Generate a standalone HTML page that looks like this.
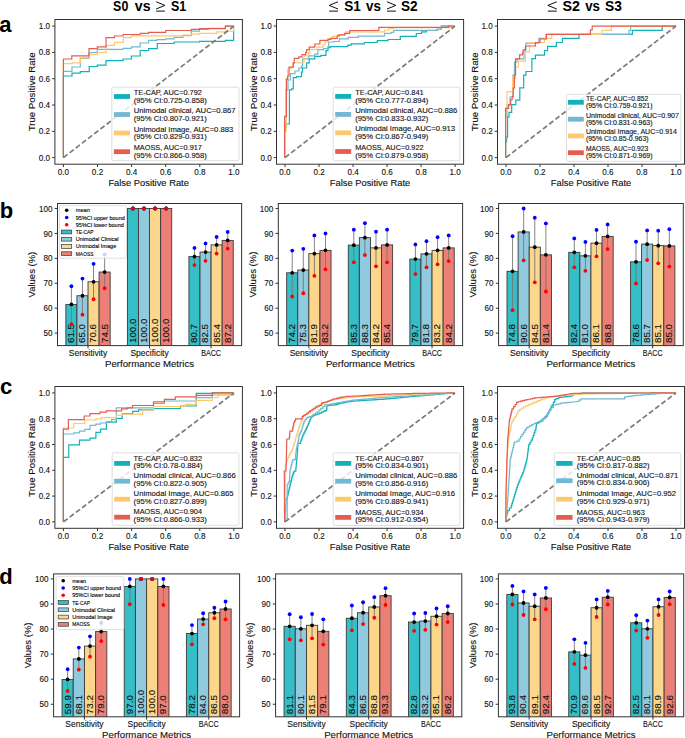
<!DOCTYPE html><html><head><meta charset="utf-8"><style>html,body{margin:0;padding:0;background:#fff;overflow:hidden} svg text{font-family:"Liberation Sans", sans-serif}</style></head><body>
<svg width="685" height="738" viewBox="0 0 685 738" style="display:block">
<rect width="685" height="738" fill="#fff"/>
<text x="113.10" y="10.70" font-size="15.20" font-weight="bold" textLength="15.20" lengthAdjust="spacingAndGlyphs">S0</text>
<text x="134.80" y="10.70" font-size="15.20" font-weight="bold" textLength="15.80" lengthAdjust="spacingAndGlyphs">vs</text>
<path d="M156.10,1.75 L164.90,5.4 L156.10,9.0" fill="none" stroke="#000" stroke-width="0.95"/>
<line x1="156.10" y1="11.1" x2="164.90" y2="11.1" stroke="#000" stroke-width="0.95"/>
<text x="171.00" y="10.70" font-size="15.20" font-weight="bold" textLength="15.30" lengthAdjust="spacingAndGlyphs">S1</text>
<path d="M338.00,1.75 L329.20,5.4 L338.00,9.0" fill="none" stroke="#000" stroke-width="0.95"/>
<line x1="329.20" y1="11.1" x2="338.00" y2="11.1" stroke="#000" stroke-width="0.95"/>
<text x="344.20" y="10.70" font-size="15.20" font-weight="bold" textLength="16.60" lengthAdjust="spacingAndGlyphs">S1</text>
<text x="366.00" y="10.70" font-size="15.20" font-weight="bold" textLength="14.90" lengthAdjust="spacingAndGlyphs">vs</text>
<path d="M387.00,1.75 L395.80,5.4 L387.00,9.0" fill="none" stroke="#000" stroke-width="0.95"/>
<line x1="387.00" y1="11.1" x2="395.80" y2="11.1" stroke="#000" stroke-width="0.95"/>
<text x="401.00" y="10.70" font-size="15.20" font-weight="bold" textLength="16.70" lengthAdjust="spacingAndGlyphs">S2</text>
<path d="M556.80,1.75 L547.80,5.4 L556.80,9.0" fill="none" stroke="#000" stroke-width="0.95"/>
<line x1="547.80" y1="11.1" x2="556.80" y2="11.1" stroke="#000" stroke-width="0.95"/>
<text x="562.40" y="10.70" font-size="15.20" font-weight="bold" textLength="17.50" lengthAdjust="spacingAndGlyphs">S2</text>
<text x="585.20" y="10.70" font-size="15.20" font-weight="bold" textLength="14.80" lengthAdjust="spacingAndGlyphs">vs</text>
<text x="605.00" y="10.70" font-size="15.20" font-weight="bold" textLength="16.90" lengthAdjust="spacingAndGlyphs">S3</text>
<text x="-0.80" y="32.30" font-size="22.00" font-weight="bold">a</text>
<text x="-0.30" y="217.80" font-size="22.00" font-weight="bold">b</text>
<text x="0.00" y="394.40" font-size="22.00" font-weight="bold">c</text>
<text x="-0.80" y="584.40" font-size="22.00" font-weight="bold">d</text>
<svg x="54.90" y="19.50" width="187.50" height="144.70" viewBox="54.90 19.50 187.50 144.70" overflow="hidden">
<path d="M63.40,157.50 L63.40,76.00 L72.00,76.00 L72.00,73.10 L80.30,73.10 L80.30,71.60 L89.20,71.60 L89.20,66.50 L97.30,66.50 L97.30,65.20 L106.00,65.20 L106.00,60.70 L123.10,60.70 L123.10,59.00 L131.40,59.00 L131.40,56.00 L140.20,56.00 L140.20,50.50 L148.60,50.50 L148.60,48.60 L157.30,48.60 L157.30,43.50 L174.20,43.50 L174.20,42.00 L199.50,42.00 L199.50,41.30 L225.40,41.30 L225.40,40.30 L233.60,40.30 L233.60,26.20" fill="none" stroke="rgb(18,176,184)" stroke-width="1.2" stroke-linejoin="miter"/>
<path d="M63.40,157.50 L63.40,71.40 L72.00,71.40 L72.00,67.00 L80.30,67.00 L80.30,58.30 L89.20,58.30 L89.20,52.50 L97.30,52.50 L97.30,49.40 L123.10,49.40 L123.10,48.40 L131.40,48.40 L131.40,46.90 L140.20,46.90 L140.20,43.00 L148.60,43.00 L148.60,40.40 L157.10,40.40 L157.10,39.60 L165.70,39.60 L165.70,38.90 L174.20,38.90 L174.20,37.40 L182.80,37.40 L182.80,35.70 L191.30,35.70 L191.30,31.10 L199.50,31.10 L199.50,29.40 L208.20,29.40 L208.20,28.40 L225.40,28.40 L225.40,26.20 L233.60,26.20" fill="none" stroke="rgb(114,184,210)" stroke-width="1.2" stroke-linejoin="miter"/>
<path d="M63.40,157.50 L63.40,63.70 L72.30,63.70 L72.30,62.90 L80.30,62.90 L80.30,57.80 L89.20,57.80 L89.20,54.40 L97.30,54.40 L97.30,52.50 L106.00,52.50 L106.00,45.30 L114.50,45.30 L114.50,42.30 L123.40,42.30 L123.40,37.60 L131.40,37.60 L131.40,35.80 L182.70,35.80 L182.70,35.00 L191.30,35.00 L191.30,34.20 L199.50,34.20 L199.50,33.30 L216.90,33.30 L216.90,31.80 L225.40,31.80 L225.40,31.10 L233.60,31.10 L233.60,26.20" fill="none" stroke="rgb(254,201,106)" stroke-width="1.2" stroke-linejoin="miter"/>
<path d="M63.40,157.50 L63.40,59.00 L71.80,59.00 L71.80,55.80 L89.00,55.80 L89.00,48.60 L97.30,48.60 L97.30,46.90 L106.00,46.90 L106.00,37.60 L114.50,37.60 L114.50,36.00 L123.10,36.00 L123.10,34.50 L140.20,34.50 L140.20,33.30 L148.60,33.30 L148.60,32.30 L165.70,32.30 L165.70,30.50 L191.30,30.50 L191.30,29.40 L199.50,29.40 L199.50,28.60 L225.40,28.60 L225.40,26.20 L233.60,26.20" fill="none" stroke="rgb(230,93,80)" stroke-width="1.2" stroke-linejoin="miter"/>
<line x1="63.42" y1="157.62" x2="233.88" y2="26.08" stroke="#7a7a7a" stroke-width="1.7" stroke-dasharray="5.2 2.6"/>
</svg>
<rect x="54.90" y="19.50" width="187.50" height="144.70" fill="none" stroke="#333" stroke-width="1"/>
<line x1="63.42" y1="164.20" x2="63.42" y2="167.00" stroke="#333" stroke-width="1"/>
<line x1="52.10" y1="157.62" x2="54.90" y2="157.62" stroke="#333" stroke-width="1"/>
<text x="63.42" y="174.90" font-size="8.80" text-anchor="middle" textLength="11.29" lengthAdjust="spacingAndGlyphs" fill="#111" stroke="#111" stroke-width="0.12">0.0</text>
<text x="50.10" y="160.72" font-size="8.80" text-anchor="end" textLength="11.29" lengthAdjust="spacingAndGlyphs" fill="#111" stroke="#111" stroke-width="0.12">0.0</text>
<line x1="97.51" y1="164.20" x2="97.51" y2="167.00" stroke="#333" stroke-width="1"/>
<line x1="52.10" y1="131.31" x2="54.90" y2="131.31" stroke="#333" stroke-width="1"/>
<text x="97.51" y="174.90" font-size="8.80" text-anchor="middle" textLength="11.29" lengthAdjust="spacingAndGlyphs" fill="#111" stroke="#111" stroke-width="0.12">0.2</text>
<text x="50.10" y="134.41" font-size="8.80" text-anchor="end" textLength="11.29" lengthAdjust="spacingAndGlyphs" fill="#111" stroke="#111" stroke-width="0.12">0.2</text>
<line x1="131.60" y1="164.20" x2="131.60" y2="167.00" stroke="#333" stroke-width="1"/>
<line x1="52.10" y1="105.00" x2="54.90" y2="105.00" stroke="#333" stroke-width="1"/>
<text x="131.60" y="174.90" font-size="8.80" text-anchor="middle" textLength="11.29" lengthAdjust="spacingAndGlyphs" fill="#111" stroke="#111" stroke-width="0.12">0.4</text>
<text x="50.10" y="108.10" font-size="8.80" text-anchor="end" textLength="11.29" lengthAdjust="spacingAndGlyphs" fill="#111" stroke="#111" stroke-width="0.12">0.4</text>
<line x1="165.70" y1="164.20" x2="165.70" y2="167.00" stroke="#333" stroke-width="1"/>
<line x1="52.10" y1="78.70" x2="54.90" y2="78.70" stroke="#333" stroke-width="1"/>
<text x="165.70" y="174.90" font-size="8.80" text-anchor="middle" textLength="11.29" lengthAdjust="spacingAndGlyphs" fill="#111" stroke="#111" stroke-width="0.12">0.6</text>
<text x="50.10" y="81.80" font-size="8.80" text-anchor="end" textLength="11.29" lengthAdjust="spacingAndGlyphs" fill="#111" stroke="#111" stroke-width="0.12">0.6</text>
<line x1="199.79" y1="164.20" x2="199.79" y2="167.00" stroke="#333" stroke-width="1"/>
<line x1="52.10" y1="52.39" x2="54.90" y2="52.39" stroke="#333" stroke-width="1"/>
<text x="199.79" y="174.90" font-size="8.80" text-anchor="middle" textLength="11.29" lengthAdjust="spacingAndGlyphs" fill="#111" stroke="#111" stroke-width="0.12">0.8</text>
<text x="50.10" y="55.49" font-size="8.80" text-anchor="end" textLength="11.29" lengthAdjust="spacingAndGlyphs" fill="#111" stroke="#111" stroke-width="0.12">0.8</text>
<line x1="233.88" y1="164.20" x2="233.88" y2="167.00" stroke="#333" stroke-width="1"/>
<line x1="52.10" y1="26.08" x2="54.90" y2="26.08" stroke="#333" stroke-width="1"/>
<text x="233.88" y="174.90" font-size="8.80" text-anchor="middle" textLength="11.29" lengthAdjust="spacingAndGlyphs" fill="#111" stroke="#111" stroke-width="0.12">1.0</text>
<text x="50.10" y="29.18" font-size="8.80" text-anchor="end" textLength="11.29" lengthAdjust="spacingAndGlyphs" fill="#111" stroke="#111" stroke-width="0.12">1.0</text>
<text x="148.65" y="185.90" font-size="8.70" text-anchor="middle" textLength="80.50" lengthAdjust="spacingAndGlyphs" fill="#111" stroke="#111" stroke-width="0.12">False Positive Rate</text>
<text x="35.20" y="91.85" font-size="8.70" text-anchor="middle" textLength="79.00" lengthAdjust="spacingAndGlyphs" fill="#111" stroke="#111" stroke-width="0.12" transform="rotate(-90 35.20 91.85)">True Positive Rate</text>
<rect x="111.80" y="87.20" width="127.20" height="73.40" rx="1.3" ry="1.3" fill="rgba(255,255,255,0.8)" stroke="#d6d6d6" stroke-width="0.8"/>
<line x1="113.90" y1="96.50" x2="130.00" y2="96.50" stroke="rgb(18,176,184)" stroke-width="4.80"/>
<text x="133.70" y="95.16" font-size="7.40" textLength="68.27" lengthAdjust="spacingAndGlyphs" fill="#111" stroke="#111" stroke-width="0.12">TE-CAP, AUC=0.792</text>
<text x="133.70" y="102.76" font-size="7.40" textLength="73.01" lengthAdjust="spacingAndGlyphs" fill="#111" stroke="#111" stroke-width="0.12">(95% CI:0.725-0.858)</text>
<line x1="113.90" y1="114.50" x2="130.00" y2="114.50" stroke="rgb(114,184,210)" stroke-width="4.80"/>
<text x="133.70" y="113.16" font-size="7.40" textLength="101.87" lengthAdjust="spacingAndGlyphs" fill="#111" stroke="#111" stroke-width="0.12">Unimodal clinical, AUC=0.867</text>
<text x="133.70" y="120.76" font-size="7.40" textLength="73.01" lengthAdjust="spacingAndGlyphs" fill="#111" stroke="#111" stroke-width="0.12">(95% CI:0.807-0.921)</text>
<line x1="113.90" y1="133.00" x2="130.00" y2="133.00" stroke="rgb(254,201,106)" stroke-width="4.80"/>
<text x="133.70" y="131.66" font-size="7.40" textLength="99.66" lengthAdjust="spacingAndGlyphs" fill="#111" stroke="#111" stroke-width="0.12">Unimodal Image, AUC=0.883</text>
<text x="133.70" y="139.26" font-size="7.40" textLength="73.01" lengthAdjust="spacingAndGlyphs" fill="#111" stroke="#111" stroke-width="0.12">(95% CI:0.829-0.931)</text>
<line x1="113.90" y1="151.70" x2="130.00" y2="151.70" stroke="rgb(230,93,80)" stroke-width="4.80"/>
<text x="133.70" y="150.36" font-size="7.40" textLength="68.25" lengthAdjust="spacingAndGlyphs" fill="#111" stroke="#111" stroke-width="0.12">MAOSS, AUC=0.917</text>
<text x="133.70" y="157.96" font-size="7.40" textLength="73.01" lengthAdjust="spacingAndGlyphs" fill="#111" stroke="#111" stroke-width="0.12">(95% CI:0.866-0.958)</text>
<svg x="276.50" y="19.50" width="187.10" height="144.70" viewBox="276.50 19.50 187.10 144.70" overflow="hidden">
<path d="M284.60,157.50 L284.60,131.00 L285.60,131.00 L285.60,124.00 L289.40,124.00 L289.40,89.90 L291.60,89.90 L291.60,88.80 L293.30,88.80 L293.30,77.70 L296.40,77.70 L296.40,76.70 L301.50,76.70 L301.50,72.10 L302.50,72.10 L302.50,68.00 L306.60,68.00 L306.60,62.90 L309.20,62.90 L309.20,58.80 L314.80,58.80 L314.80,56.30 L320.90,56.30 L320.90,55.30 L326.00,55.30 L326.00,50.70 L328.00,50.70 L328.00,47.60 L330.10,47.60 L330.10,46.60 L347.70,46.60 L347.70,45.10 L351.20,45.10 L351.20,43.80 L364.50,43.80 L364.50,42.50 L377.30,42.50 L377.30,40.70 L388.00,40.70 L388.00,39.50 L400.30,39.50 L400.30,36.40 L416.30,36.40 L416.30,33.50 L421.50,33.50 L421.50,31.80 L426.60,31.80 L426.60,30.50 L437.30,30.50 L437.30,29.40 L441.40,29.40 L441.40,26.00 L454.50,26.00" fill="none" stroke="rgb(18,176,184)" stroke-width="1.2" stroke-linejoin="miter"/>
<path d="M284.60,157.50 L284.60,128.00 L286.00,128.00 L286.00,90.00 L288.00,90.00 L288.00,80.00 L290.30,80.00 L290.30,73.60 L295.00,73.60 L295.00,71.00 L299.00,71.00 L299.00,68.00 L301.50,68.00 L301.50,66.50 L302.50,66.50 L302.50,58.80 L308.70,58.80 L308.70,55.80 L314.80,55.80 L314.80,54.20 L317.90,54.20 L317.90,49.60 L323.50,49.60 L323.50,48.60 L328.00,48.60 L328.00,46.60 L328.60,46.60 L328.60,42.00 L334.20,42.00 L334.20,41.50 L339.30,41.50 L339.30,38.90 L348.20,38.90 L348.20,37.40 L358.40,37.40 L358.40,36.20 L384.50,36.20 L384.50,33.30 L391.10,33.30 L391.10,32.30 L393.60,32.30 L393.60,30.30 L437.30,30.30 L437.30,29.40 L441.40,29.40 L441.40,26.00 L454.50,26.00" fill="none" stroke="rgb(114,184,210)" stroke-width="1.2" stroke-linejoin="miter"/>
<path d="M284.60,157.50 L284.60,131.60 L286.10,131.60 L286.10,78.20 L287.70,78.20 L287.70,69.00 L291.30,69.00 L291.30,67.00 L292.80,67.00 L292.80,62.90 L304.00,62.90 L304.00,55.80 L308.70,55.80 L308.70,52.70 L309.70,52.70 L309.70,49.60 L316.80,49.60 L316.80,47.10 L323.00,47.10 L323.00,45.00 L325.00,45.00 L325.00,42.00 L328.00,42.00 L328.00,38.40 L332.20,38.40 L332.20,36.30 L337.30,36.30 L337.30,34.80 L346.00,34.80 L346.00,31.80 L384.50,31.80 L384.50,30.00 L389.00,30.00 L389.00,28.50 L393.60,28.50 L393.60,27.60 L452.10,27.60 L452.10,26.00 L454.50,26.00" fill="none" stroke="rgb(254,201,106)" stroke-width="1.2" stroke-linejoin="miter"/>
<path d="M284.60,157.50 L284.60,116.40 L286.50,116.40 L286.50,79.30 L287.70,79.30 L287.70,76.00 L289.00,76.00 L289.00,67.20 L293.30,67.20 L293.30,62.90 L294.30,62.90 L294.30,58.30 L298.90,58.30 L298.90,56.80 L302.00,56.80 L302.00,54.70 L305.60,54.70 L305.60,52.70 L306.60,52.70 L306.60,49.60 L309.20,49.60 L309.20,47.10 L314.30,47.10 L314.30,46.60 L314.80,46.60 L314.80,44.00 L319.90,44.00 L319.90,40.40 L328.00,40.40 L328.00,39.40 L331.10,39.40 L331.10,38.40 L337.30,38.40 L337.30,35.80 L339.30,35.80 L339.30,34.80 L344.60,34.80 L344.60,33.30 L349.70,33.30 L349.70,30.50 L378.80,30.50 L378.80,27.40 L448.50,27.40 L448.50,26.00 L454.50,26.00" fill="none" stroke="rgb(230,93,80)" stroke-width="1.2" stroke-linejoin="miter"/>
<line x1="285.00" y1="157.62" x2="455.10" y2="26.08" stroke="#7a7a7a" stroke-width="1.7" stroke-dasharray="5.2 2.6"/>
</svg>
<rect x="276.50" y="19.50" width="187.10" height="144.70" fill="none" stroke="#333" stroke-width="1"/>
<line x1="285.00" y1="164.20" x2="285.00" y2="167.00" stroke="#333" stroke-width="1"/>
<line x1="273.70" y1="157.62" x2="276.50" y2="157.62" stroke="#333" stroke-width="1"/>
<text x="285.00" y="174.90" font-size="8.80" text-anchor="middle" textLength="11.29" lengthAdjust="spacingAndGlyphs" fill="#111" stroke="#111" stroke-width="0.12">0.0</text>
<text x="271.70" y="160.72" font-size="8.80" text-anchor="end" textLength="11.29" lengthAdjust="spacingAndGlyphs" fill="#111" stroke="#111" stroke-width="0.12">0.0</text>
<line x1="319.02" y1="164.20" x2="319.02" y2="167.00" stroke="#333" stroke-width="1"/>
<line x1="273.70" y1="131.31" x2="276.50" y2="131.31" stroke="#333" stroke-width="1"/>
<text x="319.02" y="174.90" font-size="8.80" text-anchor="middle" textLength="11.29" lengthAdjust="spacingAndGlyphs" fill="#111" stroke="#111" stroke-width="0.12">0.2</text>
<text x="271.70" y="134.41" font-size="8.80" text-anchor="end" textLength="11.29" lengthAdjust="spacingAndGlyphs" fill="#111" stroke="#111" stroke-width="0.12">0.2</text>
<line x1="353.04" y1="164.20" x2="353.04" y2="167.00" stroke="#333" stroke-width="1"/>
<line x1="273.70" y1="105.00" x2="276.50" y2="105.00" stroke="#333" stroke-width="1"/>
<text x="353.04" y="174.90" font-size="8.80" text-anchor="middle" textLength="11.29" lengthAdjust="spacingAndGlyphs" fill="#111" stroke="#111" stroke-width="0.12">0.4</text>
<text x="271.70" y="108.10" font-size="8.80" text-anchor="end" textLength="11.29" lengthAdjust="spacingAndGlyphs" fill="#111" stroke="#111" stroke-width="0.12">0.4</text>
<line x1="387.06" y1="164.20" x2="387.06" y2="167.00" stroke="#333" stroke-width="1"/>
<line x1="273.70" y1="78.70" x2="276.50" y2="78.70" stroke="#333" stroke-width="1"/>
<text x="387.06" y="174.90" font-size="8.80" text-anchor="middle" textLength="11.29" lengthAdjust="spacingAndGlyphs" fill="#111" stroke="#111" stroke-width="0.12">0.6</text>
<text x="271.70" y="81.80" font-size="8.80" text-anchor="end" textLength="11.29" lengthAdjust="spacingAndGlyphs" fill="#111" stroke="#111" stroke-width="0.12">0.6</text>
<line x1="421.08" y1="164.20" x2="421.08" y2="167.00" stroke="#333" stroke-width="1"/>
<line x1="273.70" y1="52.39" x2="276.50" y2="52.39" stroke="#333" stroke-width="1"/>
<text x="421.08" y="174.90" font-size="8.80" text-anchor="middle" textLength="11.29" lengthAdjust="spacingAndGlyphs" fill="#111" stroke="#111" stroke-width="0.12">0.8</text>
<text x="271.70" y="55.49" font-size="8.80" text-anchor="end" textLength="11.29" lengthAdjust="spacingAndGlyphs" fill="#111" stroke="#111" stroke-width="0.12">0.8</text>
<line x1="455.10" y1="164.20" x2="455.10" y2="167.00" stroke="#333" stroke-width="1"/>
<line x1="273.70" y1="26.08" x2="276.50" y2="26.08" stroke="#333" stroke-width="1"/>
<text x="455.10" y="174.90" font-size="8.80" text-anchor="middle" textLength="11.29" lengthAdjust="spacingAndGlyphs" fill="#111" stroke="#111" stroke-width="0.12">1.0</text>
<text x="271.70" y="29.18" font-size="8.80" text-anchor="end" textLength="11.29" lengthAdjust="spacingAndGlyphs" fill="#111" stroke="#111" stroke-width="0.12">1.0</text>
<text x="370.05" y="185.90" font-size="8.70" text-anchor="middle" textLength="80.50" lengthAdjust="spacingAndGlyphs" fill="#111" stroke="#111" stroke-width="0.12">False Positive Rate</text>
<text x="256.80" y="91.85" font-size="8.70" text-anchor="middle" textLength="79.00" lengthAdjust="spacingAndGlyphs" fill="#111" stroke="#111" stroke-width="0.12" transform="rotate(-90 256.80 91.85)">True Positive Rate</text>
<rect x="333.20" y="87.20" width="126.70" height="73.50" rx="1.3" ry="1.3" fill="rgba(255,255,255,0.8)" stroke="#d6d6d6" stroke-width="0.8"/>
<line x1="335.20" y1="96.40" x2="351.20" y2="96.40" stroke="rgb(18,176,184)" stroke-width="4.80"/>
<text x="355.20" y="95.06" font-size="7.40" textLength="68.47" lengthAdjust="spacingAndGlyphs" fill="#111" stroke="#111" stroke-width="0.12">TE-CAP, AUC=0.841</text>
<text x="355.20" y="102.66" font-size="7.40" textLength="73.23" lengthAdjust="spacingAndGlyphs" fill="#111" stroke="#111" stroke-width="0.12">(95% CI:0.777-0.894)</text>
<line x1="335.20" y1="114.40" x2="351.20" y2="114.40" stroke="rgb(114,184,210)" stroke-width="4.80"/>
<text x="355.20" y="113.06" font-size="7.40" textLength="102.17" lengthAdjust="spacingAndGlyphs" fill="#111" stroke="#111" stroke-width="0.12">Unimodal clinical, AUC=0.886</text>
<text x="355.20" y="120.66" font-size="7.40" textLength="73.23" lengthAdjust="spacingAndGlyphs" fill="#111" stroke="#111" stroke-width="0.12">(95% CI:0.833-0.932)</text>
<line x1="335.20" y1="132.80" x2="351.20" y2="132.80" stroke="rgb(254,201,106)" stroke-width="4.80"/>
<text x="355.20" y="131.46" font-size="7.40" textLength="99.95" lengthAdjust="spacingAndGlyphs" fill="#111" stroke="#111" stroke-width="0.12">Unimodal Image, AUC=0.913</text>
<text x="355.20" y="139.06" font-size="7.40" textLength="73.23" lengthAdjust="spacingAndGlyphs" fill="#111" stroke="#111" stroke-width="0.12">(95% CI:0.867-0.949)</text>
<line x1="335.20" y1="151.50" x2="351.20" y2="151.50" stroke="rgb(230,93,80)" stroke-width="4.80"/>
<text x="355.20" y="150.16" font-size="7.40" textLength="68.45" lengthAdjust="spacingAndGlyphs" fill="#111" stroke="#111" stroke-width="0.12">MAOSS, AUC=0.922</text>
<text x="355.20" y="157.76" font-size="7.40" textLength="73.23" lengthAdjust="spacingAndGlyphs" fill="#111" stroke="#111" stroke-width="0.12">(95% CI:0.879-0.958)</text>
<svg x="497.50" y="19.50" width="187.00" height="144.70" viewBox="497.50 19.50 187.00 144.70" overflow="hidden">
<path d="M505.60,157.50 L505.60,141.80 L506.60,141.80 L506.60,137.20 L507.60,137.20 L507.60,116.90 L509.00,116.90 L509.00,112.30 L511.70,112.30 L511.70,104.70 L515.80,104.70 L515.80,100.20 L519.80,100.20 L519.80,87.80 L523.70,87.80 L523.70,75.20 L526.00,75.20 L526.00,71.50 L531.90,71.50 L531.90,58.60 L535.40,58.60 L535.40,55.10 L544.50,55.10 L544.50,50.70 L547.60,50.70 L547.60,46.30 L556.40,46.30 L556.40,42.50 L562.50,42.50 L562.50,38.40 L579.00,38.40 L579.00,34.30 L632.40,34.30 L632.40,30.30 L662.20,30.30 L662.20,26.20 L675.80,26.20" fill="none" stroke="rgb(18,176,184)" stroke-width="1.2" stroke-linejoin="miter"/>
<path d="M505.60,157.50 L505.60,116.00 L507.00,116.00 L507.00,105.00 L510.00,105.00 L510.00,97.00 L513.00,97.00 L513.00,75.00 L514.50,75.00 L514.50,62.00 L517.00,62.00 L517.00,58.90 L524.00,58.90 L524.00,50.00 L526.00,50.00 L526.00,43.10 L538.90,43.10 L538.90,38.40 L546.00,38.40 L546.00,34.40 L629.00,34.40 L629.00,30.30 L630.70,30.30 L630.70,26.20 L675.80,26.20" fill="none" stroke="rgb(114,184,210)" stroke-width="1.2" stroke-linejoin="miter"/>
<path d="M505.60,157.50 L505.60,112.30 L507.10,112.30 L507.10,92.00 L508.50,92.00 L508.50,91.60 L512.60,91.60 L512.60,78.70 L515.50,78.70 L515.50,67.00 L518.40,67.00 L518.40,61.20 L525.40,61.20 L525.40,51.90 L529.50,51.90 L529.50,42.50 L544.70,42.50 L544.70,38.40 L551.70,38.40 L551.70,34.40 L601.80,34.40 L601.80,30.30 L611.40,30.30 L611.40,26.20 L675.80,26.20" fill="none" stroke="rgb(254,201,106)" stroke-width="1.2" stroke-linejoin="miter"/>
<path d="M505.60,157.50 L505.60,108.30 L508.70,108.30 L508.70,104.70 L510.70,104.70 L510.70,99.60 L512.20,99.60 L512.20,96.60 L513.20,96.60 L513.20,88.00 L514.40,88.00 L514.40,75.20 L515.50,75.20 L515.50,58.90 L519.60,58.90 L519.60,54.80 L522.50,54.80 L522.50,53.00 L523.10,53.00 L523.10,50.10 L525.40,50.10 L525.40,46.00 L535.40,46.00 L535.40,42.50 L540.00,42.50 L540.00,39.00 L546.50,39.00 L546.50,34.40 L590.40,34.40 L590.40,29.90 L592.20,29.90 L592.20,26.20 L675.80,26.20" fill="none" stroke="rgb(230,93,80)" stroke-width="1.2" stroke-linejoin="miter"/>
<line x1="506.00" y1="157.62" x2="676.00" y2="26.08" stroke="#7a7a7a" stroke-width="1.7" stroke-dasharray="5.2 2.6"/>
</svg>
<rect x="497.50" y="19.50" width="187.00" height="144.70" fill="none" stroke="#333" stroke-width="1"/>
<line x1="506.00" y1="164.20" x2="506.00" y2="167.00" stroke="#333" stroke-width="1"/>
<line x1="494.70" y1="157.62" x2="497.50" y2="157.62" stroke="#333" stroke-width="1"/>
<text x="506.00" y="174.90" font-size="8.80" text-anchor="middle" textLength="11.29" lengthAdjust="spacingAndGlyphs" fill="#111" stroke="#111" stroke-width="0.12">0.0</text>
<text x="492.70" y="160.72" font-size="8.80" text-anchor="end" textLength="11.29" lengthAdjust="spacingAndGlyphs" fill="#111" stroke="#111" stroke-width="0.12">0.0</text>
<line x1="540.00" y1="164.20" x2="540.00" y2="167.00" stroke="#333" stroke-width="1"/>
<line x1="494.70" y1="131.31" x2="497.50" y2="131.31" stroke="#333" stroke-width="1"/>
<text x="540.00" y="174.90" font-size="8.80" text-anchor="middle" textLength="11.29" lengthAdjust="spacingAndGlyphs" fill="#111" stroke="#111" stroke-width="0.12">0.2</text>
<text x="492.70" y="134.41" font-size="8.80" text-anchor="end" textLength="11.29" lengthAdjust="spacingAndGlyphs" fill="#111" stroke="#111" stroke-width="0.12">0.2</text>
<line x1="574.00" y1="164.20" x2="574.00" y2="167.00" stroke="#333" stroke-width="1"/>
<line x1="494.70" y1="105.00" x2="497.50" y2="105.00" stroke="#333" stroke-width="1"/>
<text x="574.00" y="174.90" font-size="8.80" text-anchor="middle" textLength="11.29" lengthAdjust="spacingAndGlyphs" fill="#111" stroke="#111" stroke-width="0.12">0.4</text>
<text x="492.70" y="108.10" font-size="8.80" text-anchor="end" textLength="11.29" lengthAdjust="spacingAndGlyphs" fill="#111" stroke="#111" stroke-width="0.12">0.4</text>
<line x1="608.00" y1="164.20" x2="608.00" y2="167.00" stroke="#333" stroke-width="1"/>
<line x1="494.70" y1="78.70" x2="497.50" y2="78.70" stroke="#333" stroke-width="1"/>
<text x="608.00" y="174.90" font-size="8.80" text-anchor="middle" textLength="11.29" lengthAdjust="spacingAndGlyphs" fill="#111" stroke="#111" stroke-width="0.12">0.6</text>
<text x="492.70" y="81.80" font-size="8.80" text-anchor="end" textLength="11.29" lengthAdjust="spacingAndGlyphs" fill="#111" stroke="#111" stroke-width="0.12">0.6</text>
<line x1="642.00" y1="164.20" x2="642.00" y2="167.00" stroke="#333" stroke-width="1"/>
<line x1="494.70" y1="52.39" x2="497.50" y2="52.39" stroke="#333" stroke-width="1"/>
<text x="642.00" y="174.90" font-size="8.80" text-anchor="middle" textLength="11.29" lengthAdjust="spacingAndGlyphs" fill="#111" stroke="#111" stroke-width="0.12">0.8</text>
<text x="492.70" y="55.49" font-size="8.80" text-anchor="end" textLength="11.29" lengthAdjust="spacingAndGlyphs" fill="#111" stroke="#111" stroke-width="0.12">0.8</text>
<line x1="676.00" y1="164.20" x2="676.00" y2="167.00" stroke="#333" stroke-width="1"/>
<line x1="494.70" y1="26.08" x2="497.50" y2="26.08" stroke="#333" stroke-width="1"/>
<text x="676.00" y="174.90" font-size="8.80" text-anchor="middle" textLength="11.29" lengthAdjust="spacingAndGlyphs" fill="#111" stroke="#111" stroke-width="0.12">1.0</text>
<text x="492.70" y="29.18" font-size="8.80" text-anchor="end" textLength="11.29" lengthAdjust="spacingAndGlyphs" fill="#111" stroke="#111" stroke-width="0.12">1.0</text>
<text x="591.00" y="185.90" font-size="8.70" text-anchor="middle" textLength="80.50" lengthAdjust="spacingAndGlyphs" fill="#111" stroke="#111" stroke-width="0.12">False Positive Rate</text>
<text x="477.80" y="91.85" font-size="8.70" text-anchor="middle" textLength="79.00" lengthAdjust="spacingAndGlyphs" fill="#111" stroke="#111" stroke-width="0.12" transform="rotate(-90 477.80 91.85)">True Positive Rate</text>
<rect x="566.50" y="94.30" width="114.40" height="67.00" rx="1.3" ry="1.3" fill="rgba(255,255,255,0.8)" stroke="#d6d6d6" stroke-width="0.8"/>
<line x1="567.90" y1="102.30" x2="583.80" y2="102.30" stroke="rgb(18,176,184)" stroke-width="4.80"/>
<text x="585.90" y="100.75" font-size="6.80" textLength="62.34" lengthAdjust="spacingAndGlyphs" fill="#111" stroke="#111" stroke-width="0.12">TE-CAP, AUC=0.852</text>
<text x="585.90" y="107.65" font-size="6.80" textLength="66.68" lengthAdjust="spacingAndGlyphs" fill="#111" stroke="#111" stroke-width="0.12">(95% CI:0.759-0.921)</text>
<line x1="567.90" y1="119.20" x2="583.80" y2="119.20" stroke="rgb(114,184,210)" stroke-width="4.80"/>
<text x="585.90" y="117.65" font-size="6.80" textLength="93.03" lengthAdjust="spacingAndGlyphs" fill="#111" stroke="#111" stroke-width="0.12">Unimodal clinical, AUC=0.907</text>
<text x="585.90" y="124.55" font-size="6.80" textLength="66.68" lengthAdjust="spacingAndGlyphs" fill="#111" stroke="#111" stroke-width="0.12">(95% CI:0.831-0.963)</text>
<line x1="567.90" y1="135.90" x2="583.80" y2="135.90" stroke="rgb(254,201,106)" stroke-width="4.80"/>
<text x="585.90" y="134.35" font-size="6.80" textLength="91.01" lengthAdjust="spacingAndGlyphs" fill="#111" stroke="#111" stroke-width="0.12">Unimodal Image, AUC=0.914</text>
<text x="585.90" y="141.25" font-size="6.80" textLength="62.73" lengthAdjust="spacingAndGlyphs" fill="#111" stroke="#111" stroke-width="0.12">(95% CI:0.85-0.963)</text>
<line x1="567.90" y1="152.70" x2="583.80" y2="152.70" stroke="rgb(230,93,80)" stroke-width="4.80"/>
<text x="585.90" y="151.15" font-size="6.80" textLength="62.33" lengthAdjust="spacingAndGlyphs" fill="#111" stroke="#111" stroke-width="0.12">MAOSS, AUC=0.923</text>
<text x="585.90" y="158.05" font-size="6.80" textLength="66.68" lengthAdjust="spacingAndGlyphs" fill="#111" stroke="#111" stroke-width="0.12">(95% CI:0.871-0.969)</text>
<svg x="54.90" y="386.50" width="187.50" height="141.80" viewBox="54.90 386.50 187.50 141.80" overflow="hidden">
<path d="M63.40,521.90 L63.40,457.40 L68.80,457.40 L68.80,444.80 L79.50,444.80 L79.50,440.10 L90.00,440.10 L90.00,438.10 L95.90,438.10 L95.90,432.30 L100.50,432.30 L100.50,429.10 L106.40,429.10 L106.40,422.10 L116.30,422.10 L116.30,418.30 L122.20,418.30 L122.20,413.60 L132.70,413.60 L132.70,411.30 L138.40,411.30 L138.40,409.80 L153.50,409.80 L153.50,408.50 L180.40,408.50 L180.40,406.00 L196.30,406.00 L196.30,393.40 L212.30,393.40 L212.30,392.90 L233.60,392.90" fill="none" stroke="rgb(18,176,184)" stroke-width="1.2" stroke-linejoin="miter"/>
<path d="M63.40,521.90 L63.40,434.00 L73.70,434.00 L73.70,432.90 L79.50,432.90 L79.50,431.10 L84.80,431.10 L84.80,429.40 L90.00,429.40 L90.00,425.30 L95.90,425.30 L95.90,424.10 L100.50,424.10 L100.50,423.00 L106.40,423.00 L106.40,421.80 L111.60,421.80 L111.60,419.50 L116.30,419.50 L116.30,407.80 L153.50,407.80 L153.50,403.50 L164.40,403.50 L164.40,401.00 L196.30,401.00 L196.30,397.60 L212.30,397.60 L212.30,395.00 L233.60,395.00 L233.60,392.90" fill="none" stroke="rgb(114,184,210)" stroke-width="1.2" stroke-linejoin="miter"/>
<path d="M63.40,521.90 L63.40,428.00 L73.70,428.00 L73.70,423.50 L84.80,423.50 L84.80,420.00 L95.90,420.00 L95.90,418.90 L101.70,418.90 L101.70,417.70 L116.30,417.70 L116.30,415.40 L122.20,415.40 L122.20,414.20 L142.60,414.20 L142.60,410.20 L153.50,410.20 L153.50,406.50 L185.40,406.50 L185.40,404.30 L196.30,404.30 L196.30,400.40 L212.30,400.40 L212.30,397.60 L218.10,397.60 L218.10,394.70 L233.60,394.70 L233.60,392.90" fill="none" stroke="rgb(254,201,106)" stroke-width="1.2" stroke-linejoin="miter"/>
<path d="M63.40,521.90 L63.40,429.10 L68.40,429.10 L68.40,419.70 L84.20,419.70 L84.20,416.00 L90.00,416.00 L90.00,413.60 L100.00,413.60 L100.00,412.10 L106.40,412.10 L106.40,410.90 L121.60,410.90 L121.60,408.90 L127.40,408.90 L127.40,407.80 L132.50,407.80 L132.50,405.50 L153.50,405.50 L153.50,401.80 L164.40,401.80 L164.40,399.30 L175.30,399.30 L175.30,396.80 L196.30,396.80 L196.30,395.40 L212.30,395.40 L212.30,392.90 L233.60,392.90" fill="none" stroke="rgb(230,93,80)" stroke-width="1.2" stroke-linejoin="miter"/>
<line x1="63.42" y1="521.85" x2="233.88" y2="392.95" stroke="#7a7a7a" stroke-width="1.7" stroke-dasharray="5.2 2.6"/>
</svg>
<rect x="54.90" y="386.50" width="187.50" height="141.80" fill="none" stroke="#333" stroke-width="1"/>
<line x1="63.42" y1="528.30" x2="63.42" y2="531.10" stroke="#333" stroke-width="1"/>
<line x1="52.10" y1="521.85" x2="54.90" y2="521.85" stroke="#333" stroke-width="1"/>
<text x="63.42" y="539.00" font-size="8.80" text-anchor="middle" textLength="11.29" lengthAdjust="spacingAndGlyphs" fill="#111" stroke="#111" stroke-width="0.12">0.0</text>
<text x="50.10" y="524.95" font-size="8.80" text-anchor="end" textLength="11.29" lengthAdjust="spacingAndGlyphs" fill="#111" stroke="#111" stroke-width="0.12">0.0</text>
<line x1="97.51" y1="528.30" x2="97.51" y2="531.10" stroke="#333" stroke-width="1"/>
<line x1="52.10" y1="496.07" x2="54.90" y2="496.07" stroke="#333" stroke-width="1"/>
<text x="97.51" y="539.00" font-size="8.80" text-anchor="middle" textLength="11.29" lengthAdjust="spacingAndGlyphs" fill="#111" stroke="#111" stroke-width="0.12">0.2</text>
<text x="50.10" y="499.17" font-size="8.80" text-anchor="end" textLength="11.29" lengthAdjust="spacingAndGlyphs" fill="#111" stroke="#111" stroke-width="0.12">0.2</text>
<line x1="131.60" y1="528.30" x2="131.60" y2="531.10" stroke="#333" stroke-width="1"/>
<line x1="52.10" y1="470.29" x2="54.90" y2="470.29" stroke="#333" stroke-width="1"/>
<text x="131.60" y="539.00" font-size="8.80" text-anchor="middle" textLength="11.29" lengthAdjust="spacingAndGlyphs" fill="#111" stroke="#111" stroke-width="0.12">0.4</text>
<text x="50.10" y="473.39" font-size="8.80" text-anchor="end" textLength="11.29" lengthAdjust="spacingAndGlyphs" fill="#111" stroke="#111" stroke-width="0.12">0.4</text>
<line x1="165.70" y1="528.30" x2="165.70" y2="531.10" stroke="#333" stroke-width="1"/>
<line x1="52.10" y1="444.51" x2="54.90" y2="444.51" stroke="#333" stroke-width="1"/>
<text x="165.70" y="539.00" font-size="8.80" text-anchor="middle" textLength="11.29" lengthAdjust="spacingAndGlyphs" fill="#111" stroke="#111" stroke-width="0.12">0.6</text>
<text x="50.10" y="447.61" font-size="8.80" text-anchor="end" textLength="11.29" lengthAdjust="spacingAndGlyphs" fill="#111" stroke="#111" stroke-width="0.12">0.6</text>
<line x1="199.79" y1="528.30" x2="199.79" y2="531.10" stroke="#333" stroke-width="1"/>
<line x1="52.10" y1="418.73" x2="54.90" y2="418.73" stroke="#333" stroke-width="1"/>
<text x="199.79" y="539.00" font-size="8.80" text-anchor="middle" textLength="11.29" lengthAdjust="spacingAndGlyphs" fill="#111" stroke="#111" stroke-width="0.12">0.8</text>
<text x="50.10" y="421.83" font-size="8.80" text-anchor="end" textLength="11.29" lengthAdjust="spacingAndGlyphs" fill="#111" stroke="#111" stroke-width="0.12">0.8</text>
<line x1="233.88" y1="528.30" x2="233.88" y2="531.10" stroke="#333" stroke-width="1"/>
<line x1="52.10" y1="392.95" x2="54.90" y2="392.95" stroke="#333" stroke-width="1"/>
<text x="233.88" y="539.00" font-size="8.80" text-anchor="middle" textLength="11.29" lengthAdjust="spacingAndGlyphs" fill="#111" stroke="#111" stroke-width="0.12">1.0</text>
<text x="50.10" y="396.05" font-size="8.80" text-anchor="end" textLength="11.29" lengthAdjust="spacingAndGlyphs" fill="#111" stroke="#111" stroke-width="0.12">1.0</text>
<text x="148.65" y="550.00" font-size="8.70" text-anchor="middle" textLength="80.50" lengthAdjust="spacingAndGlyphs" fill="#111" stroke="#111" stroke-width="0.12">False Positive Rate</text>
<text x="35.20" y="457.40" font-size="8.70" text-anchor="middle" textLength="79.00" lengthAdjust="spacingAndGlyphs" fill="#111" stroke="#111" stroke-width="0.12" transform="rotate(-90 35.20 457.40)">True Positive Rate</text>
<rect x="112.20" y="452.80" width="126.70" height="72.50" rx="1.3" ry="1.3" fill="rgba(255,255,255,0.8)" stroke="#d6d6d6" stroke-width="0.8"/>
<line x1="114.20" y1="463.40" x2="130.10" y2="463.40" stroke="rgb(18,176,184)" stroke-width="4.80"/>
<text x="133.60" y="460.56" font-size="7.40" textLength="68.47" lengthAdjust="spacingAndGlyphs" fill="#111" stroke="#111" stroke-width="0.12">TE-CAP, AUC=0.832</text>
<text x="133.60" y="468.16" font-size="7.40" textLength="68.89" lengthAdjust="spacingAndGlyphs" fill="#111" stroke="#111" stroke-width="0.12">(95% CI:0.78-0.884)</text>
<line x1="114.20" y1="481.20" x2="130.10" y2="481.20" stroke="rgb(114,184,210)" stroke-width="4.80"/>
<text x="133.60" y="478.36" font-size="7.40" textLength="102.17" lengthAdjust="spacingAndGlyphs" fill="#111" stroke="#111" stroke-width="0.12">Unimodal clinical, AUC=0.866</text>
<text x="133.60" y="485.96" font-size="7.40" textLength="73.23" lengthAdjust="spacingAndGlyphs" fill="#111" stroke="#111" stroke-width="0.12">(95% CI:0.822-0.905)</text>
<line x1="114.20" y1="499.20" x2="130.10" y2="499.20" stroke="rgb(254,201,106)" stroke-width="4.80"/>
<text x="133.60" y="496.36" font-size="7.40" textLength="99.95" lengthAdjust="spacingAndGlyphs" fill="#111" stroke="#111" stroke-width="0.12">Unimodal Image, AUC=0.865</text>
<text x="133.60" y="503.96" font-size="7.40" textLength="73.23" lengthAdjust="spacingAndGlyphs" fill="#111" stroke="#111" stroke-width="0.12">(95% CI:0.827-0.899)</text>
<line x1="114.20" y1="517.20" x2="130.10" y2="517.20" stroke="rgb(230,93,80)" stroke-width="4.80"/>
<text x="133.60" y="514.36" font-size="7.40" textLength="68.45" lengthAdjust="spacingAndGlyphs" fill="#111" stroke="#111" stroke-width="0.12">MAOSS, AUC=0.904</text>
<text x="133.60" y="521.96" font-size="7.40" textLength="73.23" lengthAdjust="spacingAndGlyphs" fill="#111" stroke="#111" stroke-width="0.12">(95% CI:0.866-0.933)</text>
<svg x="276.50" y="386.50" width="187.10" height="141.80" viewBox="276.50 386.50 187.10 141.80" overflow="hidden">
<path d="M284.60,521.90 L284.60,520.17 L284.75,520.17 L284.75,518.43 L284.90,518.43 L284.90,516.70 L285.05,516.70 L285.05,514.97 L285.20,514.97 L285.20,513.23 L285.35,513.23 L285.35,511.50 L285.50,511.50 L285.50,509.77 L285.58,509.77 L285.58,508.03 L285.67,508.03 L285.67,506.30 L285.75,506.30 L285.75,504.57 L285.83,504.57 L285.83,502.83 L285.92,502.83 L285.92,501.10 L286.00,501.10 L286.00,498.80 L287.20,498.80 L287.20,496.99 L287.61,496.99 L287.61,495.17 L288.03,495.17 L288.03,493.36 L288.44,493.36 L288.44,491.54 L288.86,491.54 L288.86,489.73 L289.27,489.73 L289.27,487.91 L289.69,487.91 L289.69,486.10 L290.10,486.10 L290.10,484.26 L290.56,484.26 L290.56,482.42 L291.02,482.42 L291.02,480.58 L291.48,480.58 L291.48,478.74 L291.94,478.74 L291.94,476.90 L292.40,476.90 L292.40,475.37 L292.97,475.37 L292.97,473.83 L293.53,473.83 L293.53,472.30 L294.10,472.30 L294.10,471.10 L295.80,471.10 L295.80,469.29 L295.97,469.29 L295.97,467.47 L296.14,467.47 L296.14,465.66 L296.31,465.66 L296.31,463.84 L296.49,463.84 L296.49,462.03 L296.66,462.03 L296.66,460.21 L296.83,460.21 L296.83,458.40 L297.00,458.40 L297.00,456.54 L297.14,456.54 L297.14,454.67 L297.27,454.67 L297.27,452.81 L297.41,452.81 L297.41,450.95 L297.55,450.95 L297.55,449.09 L297.69,449.09 L297.69,447.23 L297.83,447.23 L297.83,445.36 L297.96,445.36 L297.96,443.50 L298.10,443.50 L298.10,443.50 L300.40,443.50 L300.40,441.73 L301.05,441.73 L301.05,439.95 L301.70,439.95 L301.70,438.17 L302.35,438.17 L302.35,436.40 L303.00,436.40 L303.00,434.66 L303.88,434.66 L303.88,432.92 L304.76,432.92 L304.76,431.18 L305.64,431.18 L305.64,429.44 L306.52,429.44 L306.52,427.70 L307.40,427.70 L307.40,425.76 L308.18,425.76 L308.18,423.82 L308.96,423.82 L308.96,421.88 L309.74,421.88 L309.74,419.94 L310.52,419.94 L310.52,418.00 L311.30,418.00 L311.30,416.70 L313.30,416.70 L313.30,415.40 L315.30,415.40 L315.30,414.67 L317.33,414.67 L317.33,413.93 L319.37,413.93 L319.37,413.20 L321.40,413.20 L321.40,412.33 L323.17,412.33 L323.17,411.47 L324.93,411.47 L324.93,410.60 L326.70,410.60 L326.70,408.40 L326.90,408.40 L326.90,406.20 L327.10,406.20 L327.10,405.75 L329.05,405.75 L329.05,405.30 L331.00,405.30 L331.00,405.17 L332.77,405.17 L332.77,405.03 L334.53,405.03 L334.53,404.90 L336.30,404.90 L336.30,404.30 L338.20,404.30 L338.20,403.70 L340.10,403.70 L340.10,403.10 L342.00,403.10 L342.00,402.81 L343.69,402.81 L343.69,402.53 L345.37,402.53 L345.37,402.24 L347.06,402.24 L347.06,401.96 L348.74,401.96 L348.74,401.67 L350.43,401.67 L350.43,401.39 L352.11,401.39 L352.11,401.10 L353.80,401.10 L353.80,400.99 L355.55,400.99 L355.55,400.89 L357.31,400.89 L357.31,400.78 L359.06,400.78 L359.06,400.68 L360.81,400.68 L360.81,400.57 L362.56,400.57 L362.56,400.46 L364.32,400.46 L364.32,400.36 L366.07,400.36 L366.07,400.25 L367.82,400.25 L367.82,400.15 L369.58,400.15 L369.58,400.04 L371.33,400.04 L371.33,399.94 L373.08,399.94 L373.08,399.83 L374.84,399.83 L374.84,399.72 L376.59,399.72 L376.59,399.62 L378.34,399.62 L378.34,399.51 L380.09,399.51 L380.09,399.41 L381.85,399.41 L381.85,399.30 L383.60,399.30 L383.60,399.13 L385.45,399.13 L385.45,398.96 L387.29,398.96 L387.29,398.79 L389.13,398.79 L389.13,398.62 L390.98,398.62 L390.98,398.45 L392.83,398.45 L392.83,398.28 L394.67,398.28 L394.67,398.11 L396.51,398.11 L396.51,397.94 L398.36,397.94 L398.36,397.77 L400.21,397.77 L400.21,397.60 L402.05,397.60 L402.05,397.43 L403.89,397.43 L403.89,397.26 L405.74,397.26 L405.74,397.09 L407.59,397.09 L407.59,396.92 L409.43,396.92 L409.43,396.75 L411.27,396.75 L411.27,396.58 L413.12,396.58 L413.12,396.41 L414.97,396.41 L414.97,396.24 L416.81,396.24 L416.81,396.07 L418.65,396.07 L418.65,395.90 L420.50,395.90 L420.50,395.74 L422.29,395.74 L422.29,395.58 L424.08,395.58 L424.08,395.43 L425.87,395.43 L425.87,395.27 L427.66,395.27 L427.66,395.11 L429.45,395.11 L429.45,394.95 L431.24,394.95 L431.24,394.79 L433.03,394.79 L433.03,394.64 L434.82,394.64 L434.82,394.48 L436.61,394.48 L436.61,394.32 L438.39,394.32 L438.39,394.16 L440.18,394.16 L440.18,394.01 L441.97,394.01 L441.97,393.85 L443.76,393.85 L443.76,393.69 L445.55,393.69 L445.55,393.53 L447.34,393.53 L447.34,393.37 L449.13,393.37 L449.13,393.22 L450.92,393.22 L450.92,393.06 L452.71,393.06 L452.71,392.90 L454.50,392.90" fill="none" stroke="rgb(18,176,184)" stroke-width="1.2" stroke-linejoin="miter"/>
<path d="M284.60,521.90 L284.60,519.50 L284.90,519.50 L284.90,518.40 L287.20,518.40 L287.20,516.61 L287.20,516.61 L287.20,514.81 L287.20,514.81 L287.20,513.02 L287.20,513.02 L287.20,511.22 L287.20,511.22 L287.20,509.43 L287.20,509.43 L287.20,507.63 L287.20,507.63 L287.20,505.84 L287.20,505.84 L287.20,504.04 L287.20,504.04 L287.20,502.25 L287.20,502.25 L287.20,500.46 L287.20,500.46 L287.20,498.66 L287.20,498.66 L287.20,496.87 L287.20,496.87 L287.20,495.07 L287.20,495.07 L287.20,493.28 L287.20,493.28 L287.20,491.48 L287.20,491.48 L287.20,489.69 L287.20,489.69 L287.20,487.89 L287.20,487.89 L287.20,486.10 L287.20,486.10 L287.20,484.57 L287.97,484.57 L287.97,483.03 L288.73,483.03 L288.73,481.50 L289.50,481.50 L289.50,479.77 L289.60,479.77 L289.60,478.03 L289.70,478.03 L289.70,476.30 L289.80,476.30 L289.80,474.57 L289.90,474.57 L289.90,472.83 L290.00,472.83 L290.00,471.10 L290.10,471.10 L290.10,469.37 L290.58,469.37 L290.58,467.63 L291.07,467.63 L291.07,465.90 L291.55,465.90 L291.55,464.17 L292.03,464.17 L292.03,462.43 L292.52,462.43 L292.52,460.70 L293.00,460.70 L293.00,459.60 L295.30,459.60 L295.30,457.76 L295.52,457.76 L295.52,455.92 L295.74,455.92 L295.74,454.08 L295.96,454.08 L295.96,452.24 L296.18,452.24 L296.18,450.40 L296.40,450.40 L296.40,448.67 L296.78,448.67 L296.78,446.93 L297.17,446.93 L297.17,445.20 L297.55,445.20 L297.55,443.47 L297.93,443.47 L297.93,441.73 L298.32,441.73 L298.32,440.00 L298.70,440.00 L298.70,438.20 L298.90,438.20 L298.90,436.40 L299.10,436.40 L299.10,434.67 L299.97,434.67 L299.97,432.93 L300.83,432.93 L300.83,431.20 L301.70,431.20 L301.70,429.23 L302.25,429.23 L302.25,427.25 L302.80,427.25 L302.80,425.27 L303.35,425.27 L303.35,423.30 L303.90,423.30 L303.90,421.53 L305.07,421.53 L305.07,419.77 L306.23,419.77 L306.23,418.00 L307.40,418.00 L307.40,417.43 L309.00,417.43 L309.00,416.87 L310.60,416.87 L310.60,416.30 L312.20,416.30 L312.20,415.20 L313.85,415.20 L313.85,414.10 L315.50,414.10 L315.50,413.00 L317.15,413.00 L317.15,411.90 L318.80,411.90 L318.80,410.13 L320.83,410.13 L320.83,408.37 L322.87,408.37 L322.87,406.60 L324.90,406.60 L324.90,404.90 L327.50,404.90 L327.50,404.57 L329.25,404.57 L329.25,404.25 L331.00,404.25 L331.00,403.93 L332.75,403.93 L332.75,403.60 L334.50,403.60 L334.50,403.28 L336.38,403.28 L336.38,402.95 L338.25,402.95 L338.25,402.62 L340.12,402.62 L340.12,402.30 L342.00,402.30 L342.00,402.00 L343.69,402.00 L343.69,401.70 L345.37,401.70 L345.37,401.40 L347.06,401.40 L347.06,401.10 L348.74,401.10 L348.74,400.80 L350.43,400.80 L350.43,400.50 L352.11,400.50 L352.11,400.20 L353.80,400.20 L353.80,400.05 L355.55,400.05 L355.55,399.89 L357.31,399.89 L357.31,399.74 L359.06,399.74 L359.06,399.59 L360.81,399.59 L360.81,399.44 L362.56,399.44 L362.56,399.28 L364.32,399.28 L364.32,399.13 L366.07,399.13 L366.07,398.98 L367.82,398.98 L367.82,398.82 L369.58,398.82 L369.58,398.67 L371.33,398.67 L371.33,398.52 L373.08,398.52 L373.08,398.36 L374.84,398.36 L374.84,398.21 L376.59,398.21 L376.59,398.06 L378.34,398.06 L378.34,397.91 L380.09,397.91 L380.09,397.75 L381.85,397.75 L381.85,397.60 L383.60,397.60 L383.60,397.48 L385.36,397.48 L385.36,397.37 L387.13,397.37 L387.13,397.25 L388.89,397.25 L388.89,397.14 L390.65,397.14 L390.65,397.02 L392.42,397.02 L392.42,396.91 L394.18,396.91 L394.18,396.79 L395.94,396.79 L395.94,396.67 L397.71,396.67 L397.71,396.56 L399.47,396.56 L399.47,396.44 L401.23,396.44 L401.23,396.33 L402.99,396.33 L402.99,396.21 L404.76,396.21 L404.76,396.09 L406.52,396.09 L406.52,395.98 L408.28,395.98 L408.28,395.86 L410.05,395.86 L410.05,395.75 L411.81,395.75 L411.81,395.63 L413.57,395.63 L413.57,395.52 L415.34,395.52 L415.34,395.40 L417.10,395.40 L417.10,395.28 L418.88,395.28 L418.88,395.16 L420.66,395.16 L420.66,395.04 L422.44,395.04 L422.44,394.92 L424.22,394.92 L424.22,394.80 L426.00,394.80 L426.00,394.69 L427.79,394.69 L427.79,394.57 L429.57,394.57 L429.57,394.45 L431.35,394.45 L431.35,394.33 L433.13,394.33 L433.13,394.21 L434.91,394.21 L434.91,394.09 L436.69,394.09 L436.69,393.97 L438.47,393.97 L438.47,393.85 L440.25,393.85 L440.25,393.73 L442.03,393.73 L442.03,393.61 L443.81,393.61 L443.81,393.50 L445.60,393.50 L445.60,393.38 L447.38,393.38 L447.38,393.26 L449.16,393.26 L449.16,393.14 L450.94,393.14 L450.94,393.02 L452.72,393.02 L452.72,392.90 L454.50,392.90" fill="none" stroke="rgb(114,184,210)" stroke-width="1.2" stroke-linejoin="miter"/>
<path d="M284.60,521.90 L284.60,520.07 L284.64,520.07 L284.64,518.24 L284.68,518.24 L284.68,516.41 L284.71,516.41 L284.71,514.58 L284.75,514.58 L284.75,512.75 L284.79,512.75 L284.79,510.92 L284.83,510.92 L284.83,509.10 L284.86,509.10 L284.86,507.27 L284.90,507.27 L284.90,505.44 L284.94,505.44 L284.94,503.61 L284.98,503.61 L284.98,501.78 L285.01,501.78 L285.01,499.95 L285.05,499.95 L285.05,498.12 L285.09,498.12 L285.09,496.29 L285.12,496.29 L285.12,494.46 L285.16,494.46 L285.16,492.63 L285.20,492.63 L285.20,490.80 L285.24,490.80 L285.24,488.98 L285.27,488.98 L285.27,487.15 L285.31,487.15 L285.31,485.32 L285.35,485.32 L285.35,483.49 L285.39,483.49 L285.39,481.66 L285.43,481.66 L285.43,479.83 L285.46,479.83 L285.46,478.00 L285.50,478.00 L285.50,476.28 L285.50,476.28 L285.50,474.57 L285.50,474.57 L285.50,472.85 L285.50,472.85 L285.50,471.13 L285.50,471.13 L285.50,469.42 L285.50,469.42 L285.50,467.70 L285.50,467.70 L285.50,465.95 L285.93,465.95 L285.93,464.20 L286.35,464.20 L286.35,462.45 L286.77,462.45 L286.77,460.70 L287.20,460.70 L287.20,459.00 L288.05,459.00 L288.05,457.30 L288.90,457.30 L288.90,455.37 L289.87,455.37 L289.87,453.43 L290.83,453.43 L290.83,451.50 L291.80,451.50 L291.80,449.97 L292.37,449.97 L292.37,448.43 L292.93,448.43 L292.93,446.90 L293.50,446.90 L293.50,445.17 L294.07,445.17 L294.07,443.45 L294.65,443.45 L294.65,441.73 L295.23,441.73 L295.23,440.00 L295.80,440.00 L295.80,437.30 L296.40,437.30 L296.40,435.38 L297.02,435.38 L297.02,433.46 L297.64,433.46 L297.64,431.54 L298.26,431.54 L298.26,429.62 L298.88,429.62 L298.88,427.70 L299.50,427.70 L299.50,425.63 L300.23,425.63 L300.23,423.57 L300.97,423.57 L300.97,421.50 L301.70,421.50 L301.70,419.30 L302.60,419.30 L302.60,417.10 L303.50,417.10 L303.50,415.80 L305.12,415.80 L305.12,414.50 L306.75,414.50 L306.75,413.20 L308.38,413.20 L308.38,411.90 L310.00,411.90 L310.00,410.90 L311.76,410.90 L311.76,409.90 L313.51,409.90 L313.51,408.90 L315.27,408.90 L315.27,407.90 L317.03,407.90 L317.03,406.90 L318.79,406.90 L318.79,405.90 L320.54,405.90 L320.54,404.90 L322.30,404.90 L322.30,404.02 L324.04,404.02 L324.04,403.14 L325.78,403.14 L325.78,402.26 L327.52,402.26 L327.52,401.38 L329.26,401.38 L329.26,400.50 L331.00,400.50 L331.00,400.13 L332.83,400.13 L332.83,399.77 L334.67,399.77 L334.67,399.40 L336.50,399.40 L336.50,399.03 L338.33,399.03 L338.33,398.67 L340.17,398.67 L340.17,398.30 L342.00,398.30 L342.00,398.13 L343.78,398.13 L343.78,397.97 L345.56,397.97 L345.56,397.80 L347.33,397.80 L347.33,397.63 L349.11,397.63 L349.11,397.47 L350.89,397.47 L350.89,397.30 L352.67,397.30 L352.67,397.13 L354.44,397.13 L354.44,396.97 L356.22,396.97 L356.22,396.80 L358.00,396.80 L358.00,396.74 L359.81,396.74 L359.81,396.69 L361.61,396.69 L361.61,396.63 L363.42,396.63 L363.42,396.57 L365.23,396.57 L365.23,396.52 L367.03,396.52 L367.03,396.46 L368.84,396.46 L368.84,396.41 L370.64,396.41 L370.64,396.35 L372.45,396.35 L372.45,396.29 L374.26,396.29 L374.26,396.24 L376.06,396.24 L376.06,396.18 L377.87,396.18 L377.87,396.12 L379.67,396.12 L379.67,396.07 L381.48,396.07 L381.48,396.01 L383.29,396.01 L383.29,395.96 L385.09,395.96 L385.09,395.90 L386.90,395.90 L386.90,395.80 L388.68,395.80 L388.68,395.70 L390.45,395.70 L390.45,395.60 L392.23,395.60 L392.23,395.50 L394.01,395.50 L394.01,395.40 L395.78,395.40 L395.78,395.30 L397.56,395.30 L397.56,395.20 L399.34,395.20 L399.34,395.10 L401.11,395.10 L401.11,395.00 L402.89,395.00 L402.89,394.90 L404.66,394.90 L404.66,394.80 L406.44,394.80 L406.44,394.70 L408.22,394.70 L408.22,394.60 L409.99,394.60 L409.99,394.50 L411.77,394.50 L411.77,394.40 L413.55,394.40 L413.55,394.30 L415.32,394.30 L415.32,394.20 L417.10,394.20 L417.10,394.14 L418.88,394.14 L418.88,394.08 L420.66,394.08 L420.66,394.01 L422.44,394.01 L422.44,393.95 L424.22,393.95 L424.22,393.89 L426.00,393.89 L426.00,393.83 L427.79,393.83 L427.79,393.77 L429.57,393.77 L429.57,393.70 L431.35,393.70 L431.35,393.64 L433.13,393.64 L433.13,393.58 L434.91,393.58 L434.91,393.52 L436.69,393.52 L436.69,393.46 L438.47,393.46 L438.47,393.40 L440.25,393.40 L440.25,393.33 L442.03,393.33 L442.03,393.27 L443.81,393.27 L443.81,393.21 L445.60,393.21 L445.60,393.15 L447.38,393.15 L447.38,393.09 L449.16,393.09 L449.16,393.02 L450.94,393.02 L450.94,392.96 L452.72,392.96 L452.72,392.90 L454.50,392.90" fill="none" stroke="rgb(254,201,106)" stroke-width="1.2" stroke-linejoin="miter"/>
<path d="M284.60,521.90 L284.60,520.10 L284.59,520.10 L284.59,518.31 L284.58,518.31 L284.58,516.51 L284.57,516.51 L284.57,514.71 L284.56,514.71 L284.56,512.92 L284.54,512.92 L284.54,511.12 L284.53,511.12 L284.53,509.33 L284.52,509.33 L284.52,507.53 L284.51,507.53 L284.51,505.73 L284.50,505.73 L284.50,503.94 L284.49,503.94 L284.49,502.14 L284.48,502.14 L284.48,500.34 L284.47,500.34 L284.47,498.55 L284.46,498.55 L284.46,496.75 L284.44,496.75 L284.44,494.96 L284.43,494.96 L284.43,493.16 L284.42,493.16 L284.42,491.36 L284.41,491.36 L284.41,489.57 L284.40,489.57 L284.40,487.77 L284.39,487.77 L284.39,485.97 L284.38,485.97 L284.38,484.18 L284.37,484.18 L284.37,482.38 L284.36,482.38 L284.36,480.59 L284.34,480.59 L284.34,478.79 L284.33,478.79 L284.33,476.99 L284.32,476.99 L284.32,475.20 L284.31,475.20 L284.31,473.40 L284.30,473.40 L284.30,471.00 L286.00,471.00 L286.00,469.18 L286.05,469.18 L286.05,467.37 L286.10,467.37 L286.10,465.55 L286.15,465.55 L286.15,463.73 L286.20,463.73 L286.20,461.92 L286.25,461.92 L286.25,460.10 L286.30,460.10 L286.30,458.28 L286.35,458.28 L286.35,456.47 L286.40,456.47 L286.40,454.65 L286.45,454.65 L286.45,452.83 L286.50,452.83 L286.50,451.02 L286.55,451.02 L286.55,449.20 L286.60,449.20 L286.60,447.34 L286.64,447.34 L286.64,445.48 L286.68,445.48 L286.68,443.62 L286.72,443.62 L286.72,441.76 L286.76,441.76 L286.76,439.90 L286.80,439.90 L286.80,439.00 L289.40,439.00 L289.40,436.97 L289.57,436.97 L289.57,434.93 L289.73,434.93 L289.73,432.90 L289.90,432.90 L289.90,431.20 L292.50,431.20 L292.50,429.45 L292.82,429.45 L292.82,427.70 L293.15,427.70 L293.15,425.95 L293.48,425.95 L293.48,424.20 L293.80,424.20 L293.80,422.43 L294.67,422.43 L294.67,420.67 L295.53,420.67 L295.53,418.90 L296.40,418.90 L296.40,418.90 L298.30,418.90 L298.30,418.90 L300.20,418.90 L300.20,418.90 L302.10,418.90 L302.10,416.30 L303.50,416.30 L303.50,415.40 L305.10,415.40 L305.10,414.50 L306.70,414.50 L306.70,413.60 L308.30,413.60 L308.30,412.10 L310.25,412.10 L310.25,410.60 L312.20,410.60 L312.20,409.43 L313.80,409.43 L313.80,408.27 L315.40,408.27 L315.40,407.10 L317.00,407.10 L317.00,406.20 L319.20,406.20 L319.20,405.30 L321.40,405.30 L321.40,403.10 L322.70,403.10 L322.70,402.68 L324.35,402.68 L324.35,402.25 L326.00,402.25 L326.00,401.82 L327.65,401.82 L327.65,401.40 L329.30,401.40 L329.30,400.67 L331.03,400.67 L331.03,399.93 L332.77,399.93 L332.77,399.20 L334.50,399.20 L334.50,398.75 L336.38,398.75 L336.38,398.30 L338.25,398.30 L338.25,397.85 L340.12,397.85 L340.12,397.40 L342.00,397.40 L342.00,397.07 L344.03,397.07 L344.03,396.73 L346.07,396.73 L346.07,396.40 L348.10,396.40 L348.10,396.32 L350.08,396.32 L350.08,396.24 L352.06,396.24 L352.06,396.16 L354.04,396.16 L354.04,396.08 L356.02,396.08 L356.02,396.00 L358.00,396.00 L358.00,395.89 L359.76,395.89 L359.76,395.77 L361.51,395.77 L361.51,395.66 L363.27,395.66 L363.27,395.55 L365.02,395.55 L365.02,395.44 L366.78,395.44 L366.78,395.32 L368.54,395.32 L368.54,395.21 L370.29,395.21 L370.29,395.10 L372.05,395.10 L372.05,394.99 L373.81,394.99 L373.81,394.88 L375.56,394.88 L375.56,394.76 L377.32,394.76 L377.32,394.65 L379.08,394.65 L379.08,394.54 L380.83,394.54 L380.83,394.43 L382.59,394.43 L382.59,394.31 L384.34,394.31 L384.34,394.20 L386.10,394.20 L386.10,394.15 L387.92,394.15 L387.92,394.11 L389.75,394.11 L389.75,394.06 L391.57,394.06 L391.57,394.01 L393.39,394.01 L393.39,393.96 L395.22,393.96 L395.22,393.92 L397.04,393.92 L397.04,393.87 L398.86,393.87 L398.86,393.82 L400.69,393.82 L400.69,393.78 L402.51,393.78 L402.51,393.73 L404.34,393.73 L404.34,393.68 L406.16,393.68 L406.16,393.64 L407.98,393.64 L407.98,393.59 L409.81,393.59 L409.81,393.54 L411.63,393.54 L411.63,393.49 L413.45,393.49 L413.45,393.45 L415.28,393.45 L415.28,393.40 L417.10,393.40 L417.10,393.38 L418.88,393.38 L418.88,393.35 L420.66,393.35 L420.66,393.33 L422.44,393.33 L422.44,393.30 L424.22,393.30 L424.22,393.28 L426.00,393.28 L426.00,393.26 L427.79,393.26 L427.79,393.23 L429.57,393.23 L429.57,393.21 L431.35,393.21 L431.35,393.19 L433.13,393.19 L433.13,393.16 L434.91,393.16 L434.91,393.14 L436.69,393.14 L436.69,393.11 L438.47,393.11 L438.47,393.09 L440.25,393.09 L440.25,393.07 L442.03,393.07 L442.03,393.04 L443.81,393.04 L443.81,393.02 L445.60,393.02 L445.60,393.00 L447.38,393.00 L447.38,392.97 L449.16,392.97 L449.16,392.95 L450.94,392.95 L450.94,392.92 L452.72,392.92 L452.72,392.90 L454.50,392.90" fill="none" stroke="rgb(230,93,80)" stroke-width="1.2" stroke-linejoin="miter"/>
<line x1="285.00" y1="521.85" x2="455.10" y2="392.95" stroke="#7a7a7a" stroke-width="1.7" stroke-dasharray="5.2 2.6"/>
</svg>
<rect x="276.50" y="386.50" width="187.10" height="141.80" fill="none" stroke="#333" stroke-width="1"/>
<line x1="285.00" y1="528.30" x2="285.00" y2="531.10" stroke="#333" stroke-width="1"/>
<line x1="273.70" y1="521.85" x2="276.50" y2="521.85" stroke="#333" stroke-width="1"/>
<text x="285.00" y="539.00" font-size="8.80" text-anchor="middle" textLength="11.29" lengthAdjust="spacingAndGlyphs" fill="#111" stroke="#111" stroke-width="0.12">0.0</text>
<text x="271.70" y="524.95" font-size="8.80" text-anchor="end" textLength="11.29" lengthAdjust="spacingAndGlyphs" fill="#111" stroke="#111" stroke-width="0.12">0.0</text>
<line x1="319.02" y1="528.30" x2="319.02" y2="531.10" stroke="#333" stroke-width="1"/>
<line x1="273.70" y1="496.07" x2="276.50" y2="496.07" stroke="#333" stroke-width="1"/>
<text x="319.02" y="539.00" font-size="8.80" text-anchor="middle" textLength="11.29" lengthAdjust="spacingAndGlyphs" fill="#111" stroke="#111" stroke-width="0.12">0.2</text>
<text x="271.70" y="499.17" font-size="8.80" text-anchor="end" textLength="11.29" lengthAdjust="spacingAndGlyphs" fill="#111" stroke="#111" stroke-width="0.12">0.2</text>
<line x1="353.04" y1="528.30" x2="353.04" y2="531.10" stroke="#333" stroke-width="1"/>
<line x1="273.70" y1="470.29" x2="276.50" y2="470.29" stroke="#333" stroke-width="1"/>
<text x="353.04" y="539.00" font-size="8.80" text-anchor="middle" textLength="11.29" lengthAdjust="spacingAndGlyphs" fill="#111" stroke="#111" stroke-width="0.12">0.4</text>
<text x="271.70" y="473.39" font-size="8.80" text-anchor="end" textLength="11.29" lengthAdjust="spacingAndGlyphs" fill="#111" stroke="#111" stroke-width="0.12">0.4</text>
<line x1="387.06" y1="528.30" x2="387.06" y2="531.10" stroke="#333" stroke-width="1"/>
<line x1="273.70" y1="444.51" x2="276.50" y2="444.51" stroke="#333" stroke-width="1"/>
<text x="387.06" y="539.00" font-size="8.80" text-anchor="middle" textLength="11.29" lengthAdjust="spacingAndGlyphs" fill="#111" stroke="#111" stroke-width="0.12">0.6</text>
<text x="271.70" y="447.61" font-size="8.80" text-anchor="end" textLength="11.29" lengthAdjust="spacingAndGlyphs" fill="#111" stroke="#111" stroke-width="0.12">0.6</text>
<line x1="421.08" y1="528.30" x2="421.08" y2="531.10" stroke="#333" stroke-width="1"/>
<line x1="273.70" y1="418.73" x2="276.50" y2="418.73" stroke="#333" stroke-width="1"/>
<text x="421.08" y="539.00" font-size="8.80" text-anchor="middle" textLength="11.29" lengthAdjust="spacingAndGlyphs" fill="#111" stroke="#111" stroke-width="0.12">0.8</text>
<text x="271.70" y="421.83" font-size="8.80" text-anchor="end" textLength="11.29" lengthAdjust="spacingAndGlyphs" fill="#111" stroke="#111" stroke-width="0.12">0.8</text>
<line x1="455.10" y1="528.30" x2="455.10" y2="531.10" stroke="#333" stroke-width="1"/>
<line x1="273.70" y1="392.95" x2="276.50" y2="392.95" stroke="#333" stroke-width="1"/>
<text x="455.10" y="539.00" font-size="8.80" text-anchor="middle" textLength="11.29" lengthAdjust="spacingAndGlyphs" fill="#111" stroke="#111" stroke-width="0.12">1.0</text>
<text x="271.70" y="396.05" font-size="8.80" text-anchor="end" textLength="11.29" lengthAdjust="spacingAndGlyphs" fill="#111" stroke="#111" stroke-width="0.12">1.0</text>
<text x="370.05" y="550.00" font-size="8.70" text-anchor="middle" textLength="80.50" lengthAdjust="spacingAndGlyphs" fill="#111" stroke="#111" stroke-width="0.12">False Positive Rate</text>
<text x="256.80" y="457.40" font-size="8.70" text-anchor="middle" textLength="79.00" lengthAdjust="spacingAndGlyphs" fill="#111" stroke="#111" stroke-width="0.12" transform="rotate(-90 256.80 457.40)">True Positive Rate</text>
<rect x="333.20" y="452.80" width="126.70" height="72.70" rx="1.3" ry="1.3" fill="rgba(255,255,255,0.8)" stroke="#d6d6d6" stroke-width="0.8"/>
<line x1="335.20" y1="463.40" x2="351.20" y2="463.40" stroke="rgb(18,176,184)" stroke-width="4.80"/>
<text x="355.20" y="460.56" font-size="7.40" textLength="68.47" lengthAdjust="spacingAndGlyphs" fill="#111" stroke="#111" stroke-width="0.12">TE-CAP, AUC=0.867</text>
<text x="355.20" y="468.16" font-size="7.40" textLength="73.23" lengthAdjust="spacingAndGlyphs" fill="#111" stroke="#111" stroke-width="0.12">(95% CI:0.834-0.901)</text>
<line x1="335.20" y1="481.20" x2="351.20" y2="481.20" stroke="rgb(114,184,210)" stroke-width="4.80"/>
<text x="355.20" y="478.36" font-size="7.40" textLength="102.17" lengthAdjust="spacingAndGlyphs" fill="#111" stroke="#111" stroke-width="0.12">Unimodal clinical, AUC=0.886</text>
<text x="355.20" y="485.96" font-size="7.40" textLength="73.23" lengthAdjust="spacingAndGlyphs" fill="#111" stroke="#111" stroke-width="0.12">(95% CI:0.856-0.916)</text>
<line x1="335.20" y1="499.20" x2="351.20" y2="499.20" stroke="rgb(254,201,106)" stroke-width="4.80"/>
<text x="355.20" y="496.36" font-size="7.40" textLength="99.95" lengthAdjust="spacingAndGlyphs" fill="#111" stroke="#111" stroke-width="0.12">Unimodal Image, AUC=0.916</text>
<text x="355.20" y="503.96" font-size="7.40" textLength="73.23" lengthAdjust="spacingAndGlyphs" fill="#111" stroke="#111" stroke-width="0.12">(95% CI:0.889-0.941)</text>
<line x1="335.20" y1="517.40" x2="351.20" y2="517.40" stroke="rgb(230,93,80)" stroke-width="4.80"/>
<text x="355.20" y="514.56" font-size="7.40" textLength="68.45" lengthAdjust="spacingAndGlyphs" fill="#111" stroke="#111" stroke-width="0.12">MAOSS, AUC=0.934</text>
<text x="355.20" y="522.16" font-size="7.40" textLength="73.23" lengthAdjust="spacingAndGlyphs" fill="#111" stroke="#111" stroke-width="0.12">(95% CI:0.912-0.954)</text>
<svg x="497.50" y="386.50" width="187.00" height="141.80" viewBox="497.50 386.50 187.00 141.80" overflow="hidden">
<path d="M505.80,521.90 L505.80,520.00 L505.90,520.00 L505.90,517.77 L506.47,517.77 L506.47,515.53 L507.03,515.53 L507.03,513.30 L507.60,513.30 L507.60,510.65 L509.40,510.65 L509.40,508.00 L511.20,508.00 L511.20,505.82 L511.85,505.82 L511.85,503.65 L512.50,503.65 L512.50,501.48 L513.15,501.48 L513.15,499.30 L513.80,499.30 L513.80,496.95 L514.53,496.95 L514.53,494.60 L515.27,494.60 L515.27,492.25 L516.00,492.25 L516.00,489.90 L516.73,489.90 L516.73,487.55 L517.47,487.55 L517.47,485.20 L518.20,485.20 L518.20,483.13 L519.08,483.13 L519.08,481.07 L519.97,481.07 L519.97,479.00 L520.85,479.00 L520.85,476.93 L521.73,476.93 L521.73,474.87 L522.62,474.87 L522.62,472.80 L523.50,472.80 L523.50,470.75 L524.08,470.75 L524.08,468.70 L524.67,468.70 L524.67,466.65 L525.25,466.65 L525.25,464.60 L525.83,464.60 L525.83,462.55 L526.42,462.55 L526.42,460.50 L527.00,460.50 L527.00,458.15 L527.30,458.15 L527.30,455.80 L527.60,455.80 L527.60,453.45 L527.90,453.45 L527.90,451.10 L528.20,451.10 L528.20,448.75 L528.50,448.75 L528.50,446.40 L528.80,446.40 L528.80,444.33 L529.97,444.33 L529.97,442.27 L531.13,442.27 L531.13,440.20 L532.30,440.20 L532.30,437.77 L533.17,437.77 L533.17,435.35 L534.05,435.35 L534.05,432.93 L534.92,432.93 L534.92,430.50 L535.80,430.50 L535.80,428.47 L536.10,428.47 L536.10,426.43 L536.40,426.43 L536.40,424.40 L536.70,424.40 L536.70,423.20 L538.77,423.20 L538.77,422.00 L540.83,422.00 L540.83,420.80 L542.90,420.80 L542.90,418.60 L545.10,418.60 L545.10,416.40 L547.30,416.40 L547.30,414.07 L548.47,414.07 L548.47,411.73 L549.63,411.73 L549.63,409.40 L550.80,409.40 L550.80,406.97 L552.12,406.97 L552.12,404.55 L553.45,404.55 L553.45,402.12 L554.77,402.12 L554.77,399.70 L556.10,399.70 L556.10,398.55 L558.75,398.55 L558.75,397.40 L561.40,397.40 L561.40,397.16 L563.52,397.16 L563.52,396.92 L565.64,396.92 L565.64,396.68 L567.76,396.68 L567.76,396.44 L569.88,396.44 L569.88,396.20 L572.00,396.20 L572.00,395.05 L573.75,395.05 L573.75,393.90 L575.50,393.90 L575.50,393.72 L577.88,393.72 L577.88,393.55 L580.25,393.55 L580.25,393.38 L582.62,393.38 L582.62,393.20 L585.00,393.20 L585.00,393.19 L587.21,393.19 L587.21,393.19 L589.42,393.19 L589.42,393.18 L591.63,393.18 L591.63,393.17 L593.84,393.17 L593.84,393.16 L596.05,393.16 L596.05,393.16 L598.26,393.16 L598.26,393.15 L600.47,393.15 L600.47,393.14 L602.68,393.14 L602.68,393.13 L604.89,393.13 L604.89,393.13 L607.10,393.13 L607.10,393.12 L609.31,393.12 L609.31,393.11 L611.52,393.11 L611.52,393.10 L613.73,393.10 L613.73,393.10 L615.94,393.10 L615.94,393.09 L618.15,393.09 L618.15,393.08 L620.36,393.08 L620.36,393.08 L622.57,393.08 L622.57,393.07 L624.78,393.07 L624.78,393.06 L626.99,393.06 L626.99,393.05 L629.20,393.05 L629.20,393.05 L631.40,393.05 L631.40,393.04 L633.61,393.04 L633.61,393.03 L635.82,393.03 L635.82,393.02 L638.03,393.02 L638.03,393.02 L640.24,393.02 L640.24,393.01 L642.45,393.01 L642.45,393.00 L644.66,393.00 L644.66,393.00 L646.87,393.00 L646.87,392.99 L649.08,392.99 L649.08,392.98 L651.29,392.98 L651.29,392.97 L653.50,392.97 L653.50,392.97 L655.71,392.97 L655.71,392.96 L657.92,392.96 L657.92,392.95 L660.13,392.95 L660.13,392.94 L662.34,392.94 L662.34,392.94 L664.55,392.94 L664.55,392.93 L666.76,392.93 L666.76,392.92 L668.97,392.92 L668.97,392.91 L671.18,392.91 L671.18,392.91 L673.39,392.91 L673.39,392.90 L675.60,392.90" fill="none" stroke="rgb(18,176,184)" stroke-width="1.2" stroke-linejoin="miter"/>
<path d="M505.80,521.90 L505.80,519.75 L506.05,519.75 L506.05,517.60 L506.30,517.60 L506.30,515.45 L506.55,515.45 L506.55,513.30 L506.80,513.30 L506.80,511.06 L506.95,511.06 L506.95,508.83 L507.11,508.83 L507.11,506.59 L507.26,506.59 L507.26,504.35 L507.42,504.35 L507.42,502.12 L507.57,502.12 L507.57,499.88 L507.73,499.88 L507.73,497.65 L507.88,497.65 L507.88,495.41 L508.04,495.41 L508.04,493.17 L508.19,493.17 L508.19,490.94 L508.35,490.94 L508.35,488.70 L508.50,488.70 L508.50,486.53 L508.64,486.53 L508.64,484.36 L508.78,484.36 L508.78,482.19 L508.92,482.19 L508.92,480.02 L509.05,480.02 L509.05,477.85 L509.19,477.85 L509.19,475.68 L509.33,475.68 L509.33,473.52 L509.47,473.52 L509.47,471.35 L509.61,471.35 L509.61,469.18 L509.75,469.18 L509.75,467.01 L509.88,467.01 L509.88,464.84 L510.02,464.84 L510.02,462.67 L510.16,462.67 L510.16,460.50 L510.30,460.50 L510.30,458.30 L510.85,458.30 L510.85,456.10 L511.40,456.10 L511.40,453.90 L511.95,453.90 L511.95,451.70 L512.50,451.70 L512.50,449.50 L513.05,449.50 L513.05,447.30 L513.60,447.30 L513.60,445.10 L514.15,445.10 L514.15,442.90 L514.70,442.90 L514.70,442.00 L516.90,442.00 L516.90,441.10 L519.10,441.10 L519.10,438.77 L520.57,438.77 L520.57,436.43 L522.03,436.43 L522.03,434.10 L523.50,434.10 L523.50,432.03 L524.97,432.03 L524.97,429.97 L526.43,429.97 L526.43,427.90 L527.90,427.90 L527.90,426.80 L529.88,426.80 L529.88,425.70 L531.85,425.70 L531.85,424.60 L533.82,424.60 L533.82,423.50 L535.80,423.50 L535.80,422.60 L538.00,422.60 L538.00,421.70 L540.20,421.70 L540.20,420.23 L542.27,420.23 L542.27,418.77 L544.33,418.77 L544.33,417.30 L546.40,417.30 L546.40,414.97 L547.87,414.97 L547.87,412.63 L549.33,412.63 L549.33,410.30 L550.80,410.30 L550.80,407.65 L553.45,407.65 L553.45,405.00 L556.10,405.00 L556.10,404.40 L558.43,404.40 L558.43,403.80 L560.77,403.80 L560.77,403.20 L563.10,403.20 L563.10,402.96 L565.37,402.96 L565.37,402.71 L567.64,402.71 L567.64,402.47 L569.91,402.47 L569.91,402.23 L572.19,402.23 L572.19,401.99 L574.46,401.99 L574.46,401.74 L576.73,401.74 L576.73,401.50 L579.00,401.50 L579.00,400.15 L580.75,400.15 L580.75,398.80 L582.50,398.80 L582.50,398.80 L584.72,398.80 L584.72,398.80 L586.93,398.80 L586.93,398.80 L589.15,398.80 L589.15,398.80 L591.36,398.80 L591.36,398.80 L593.58,398.80 L593.58,398.80 L595.79,398.80 L595.79,398.80 L598.01,398.80 L598.01,398.80 L600.23,398.80 L600.23,398.80 L602.44,398.80 L602.44,398.80 L604.66,398.80 L604.66,398.80 L606.87,398.80 L606.87,398.80 L609.09,398.80 L609.09,398.80 L611.31,398.80 L611.31,398.80 L613.52,398.80 L613.52,398.80 L615.74,398.80 L615.74,398.80 L617.95,398.80 L617.95,398.80 L620.17,398.80 L620.17,398.80 L622.38,398.80 L622.38,398.80 L624.60,398.80 L624.60,397.10 L626.20,397.10 L626.20,396.76 L628.38,396.76 L628.38,396.42 L630.56,396.42 L630.56,396.08 L632.74,396.08 L632.74,395.74 L634.92,395.74 L634.92,395.40 L637.10,395.40 L637.10,395.23 L639.34,395.23 L639.34,395.07 L641.58,395.07 L641.58,394.90 L643.83,394.90 L643.83,394.73 L646.07,394.73 L646.07,394.57 L648.31,394.57 L648.31,394.40 L650.55,394.40 L650.55,394.23 L652.79,394.23 L652.79,394.07 L655.03,394.07 L655.03,393.90 L657.27,393.90 L657.27,393.73 L659.52,393.73 L659.52,393.57 L661.76,393.57 L661.76,393.40 L664.00,393.40 L664.00,393.30 L666.32,393.30 L666.32,393.20 L668.64,393.20 L668.64,393.10 L670.96,393.10 L670.96,393.00 L673.28,393.00 L673.28,392.90 L675.60,392.90" fill="none" stroke="rgb(114,184,210)" stroke-width="1.2" stroke-linejoin="miter"/>
<path d="M505.80,521.90 L505.80,519.71 L505.84,519.71 L505.84,517.51 L505.87,517.51 L505.87,515.32 L505.91,515.32 L505.91,513.13 L505.94,513.13 L505.94,510.94 L505.98,510.94 L505.98,508.74 L506.01,508.74 L506.01,506.55 L506.05,506.55 L506.05,504.36 L506.09,504.36 L506.09,502.16 L506.12,502.16 L506.12,499.97 L506.16,499.97 L506.16,497.78 L506.19,497.78 L506.19,495.59 L506.23,495.59 L506.23,493.39 L506.26,493.39 L506.26,491.20 L506.30,491.20 L506.30,489.01 L506.34,489.01 L506.34,486.81 L506.37,486.81 L506.37,484.62 L506.41,484.62 L506.41,482.43 L506.44,482.43 L506.44,480.24 L506.48,480.24 L506.48,478.04 L506.51,478.04 L506.51,475.85 L506.55,475.85 L506.55,473.66 L506.59,473.66 L506.59,471.46 L506.62,471.46 L506.62,469.27 L506.66,469.27 L506.66,467.08 L506.69,467.08 L506.69,464.89 L506.73,464.89 L506.73,462.69 L506.76,462.69 L506.76,460.50 L506.80,460.50 L506.80,458.38 L506.97,458.38 L506.97,456.26 L507.14,456.26 L507.14,454.14 L507.31,454.14 L507.31,452.02 L507.48,452.02 L507.48,449.90 L507.65,449.90 L507.65,447.78 L507.82,447.78 L507.82,445.66 L507.99,445.66 L507.99,443.54 L508.16,443.54 L508.16,441.42 L508.33,441.42 L508.33,439.30 L508.50,439.30 L508.50,437.04 L509.00,437.04 L509.00,434.79 L509.50,434.79 L509.50,432.53 L510.00,432.53 L510.00,430.27 L510.50,430.27 L510.50,428.01 L511.00,428.01 L511.00,425.76 L511.50,425.76 L511.50,423.50 L512.00,423.50 L512.00,421.13 L513.50,421.13 L513.50,418.77 L515.00,418.77 L515.00,416.40 L516.50,416.40 L516.50,413.75 L517.80,413.75 L517.80,411.10 L519.10,411.10 L519.10,409.63 L521.43,409.63 L521.43,408.17 L523.77,408.17 L523.77,406.70 L526.10,406.70 L526.10,405.82 L528.10,405.82 L528.10,404.95 L530.10,404.95 L530.10,404.07 L532.10,404.07 L532.10,403.20 L534.10,403.20 L534.10,402.32 L536.30,402.32 L536.30,401.45 L538.50,401.45 L538.50,400.57 L540.70,400.57 L540.70,399.70 L542.90,399.70 L542.90,398.80 L544.97,398.80 L544.97,397.90 L547.03,397.90 L547.03,397.00 L549.10,397.00 L549.10,396.81 L551.34,396.81 L551.34,396.61 L553.59,396.61 L553.59,396.42 L555.83,396.42 L555.83,396.23 L558.08,396.23 L558.08,396.03 L560.32,396.03 L560.32,395.84 L562.56,395.84 L562.56,395.64 L564.81,395.64 L564.81,395.45 L567.05,395.45 L567.05,395.26 L569.29,395.26 L569.29,395.06 L571.54,395.06 L571.54,394.87 L573.78,394.87 L573.78,394.67 L576.02,394.67 L576.02,394.48 L578.27,394.48 L578.27,394.29 L580.51,394.29 L580.51,394.09 L582.76,394.09 L582.76,393.90 L585.00,393.90 L585.00,393.88 L587.21,393.88 L587.21,393.85 L589.42,393.85 L589.42,393.83 L591.63,393.83 L591.63,393.80 L593.84,393.80 L593.84,393.78 L596.05,393.78 L596.05,393.75 L598.26,393.75 L598.26,393.73 L600.47,393.73 L600.47,393.70 L602.68,393.70 L602.68,393.68 L604.89,393.68 L604.89,393.66 L607.10,393.66 L607.10,393.63 L609.31,393.63 L609.31,393.61 L611.52,393.61 L611.52,393.58 L613.73,393.58 L613.73,393.56 L615.94,393.56 L615.94,393.53 L618.15,393.53 L618.15,393.51 L620.36,393.51 L620.36,393.49 L622.57,393.49 L622.57,393.46 L624.78,393.46 L624.78,393.44 L626.99,393.44 L626.99,393.41 L629.20,393.41 L629.20,393.39 L631.40,393.39 L631.40,393.36 L633.61,393.36 L633.61,393.34 L635.82,393.34 L635.82,393.31 L638.03,393.31 L638.03,393.29 L640.24,393.29 L640.24,393.27 L642.45,393.27 L642.45,393.24 L644.66,393.24 L644.66,393.22 L646.87,393.22 L646.87,393.19 L649.08,393.19 L649.08,393.17 L651.29,393.17 L651.29,393.14 L653.50,393.14 L653.50,393.12 L655.71,393.12 L655.71,393.10 L657.92,393.10 L657.92,393.07 L660.13,393.07 L660.13,393.05 L662.34,393.05 L662.34,393.02 L664.55,393.02 L664.55,393.00 L666.76,393.00 L666.76,392.97 L668.97,392.97 L668.97,392.95 L671.18,392.95 L671.18,392.92 L673.39,392.92 L673.39,392.90 L675.60,392.90" fill="none" stroke="rgb(254,201,106)" stroke-width="1.2" stroke-linejoin="miter"/>
<path d="M505.80,521.90 L505.80,519.72 L505.81,519.72 L505.81,517.53 L505.82,517.53 L505.82,515.35 L505.82,515.35 L505.82,513.17 L505.83,513.17 L505.83,510.98 L505.84,510.98 L505.84,508.80 L505.85,508.80 L505.85,506.62 L505.86,506.62 L505.86,504.43 L505.87,504.43 L505.87,502.25 L505.88,502.25 L505.88,500.07 L505.88,500.07 L505.88,497.88 L505.89,497.88 L505.89,495.70 L505.90,495.70 L505.90,493.50 L505.97,493.50 L505.97,491.30 L506.04,491.30 L506.04,489.10 L506.11,489.10 L506.11,486.90 L506.18,486.90 L506.18,484.70 L506.25,484.70 L506.25,482.50 L506.32,482.50 L506.32,480.30 L506.40,480.30 L506.40,478.10 L506.47,478.10 L506.47,475.90 L506.54,475.90 L506.54,473.70 L506.61,473.70 L506.61,471.50 L506.68,471.50 L506.68,469.30 L506.75,469.30 L506.75,467.10 L506.82,467.10 L506.82,464.90 L506.89,464.90 L506.89,462.70 L506.96,462.70 L506.96,460.50 L507.03,460.50 L507.03,458.30 L507.10,458.30 L507.10,456.10 L507.18,456.10 L507.18,453.90 L507.25,453.90 L507.25,451.70 L507.32,451.70 L507.32,449.50 L507.39,449.50 L507.39,447.30 L507.46,447.30 L507.46,445.10 L507.53,445.10 L507.53,442.90 L507.60,442.90 L507.60,440.78 L507.78,440.78 L507.78,438.66 L507.96,438.66 L507.96,436.54 L508.14,436.54 L508.14,434.42 L508.32,434.42 L508.32,432.30 L508.50,432.30 L508.50,430.18 L508.68,430.18 L508.68,428.06 L508.86,428.06 L508.86,425.94 L509.04,425.94 L509.04,423.82 L509.22,423.82 L509.22,421.70 L509.40,421.70 L509.40,419.58 L509.92,419.58 L509.92,417.46 L510.44,417.46 L510.44,415.34 L510.96,415.34 L510.96,413.22 L511.48,413.22 L511.48,411.10 L512.00,411.10 L512.00,408.90 L513.55,408.90 L513.55,406.70 L515.10,406.70 L515.10,404.50 L516.65,404.50 L516.65,402.30 L518.20,402.30 L518.20,401.73 L520.27,401.73 L520.27,401.17 L522.33,401.17 L522.33,400.60 L524.40,400.60 L524.40,400.15 L526.45,400.15 L526.45,399.70 L528.50,399.70 L528.50,399.25 L530.55,399.25 L530.55,398.80 L532.60,398.80 L532.60,398.35 L534.65,398.35 L534.65,397.90 L536.70,397.90 L536.70,397.73 L538.82,397.73 L538.82,397.56 L540.94,397.56 L540.94,397.39 L543.06,397.39 L543.06,397.22 L545.18,397.22 L545.18,397.05 L547.30,397.05 L547.30,396.88 L549.42,396.88 L549.42,396.71 L551.54,396.71 L551.54,396.54 L553.66,396.54 L553.66,396.37 L555.78,396.37 L555.78,396.20 L557.90,396.20 L557.90,395.81 L560.16,395.81 L560.16,395.43 L562.41,395.43 L562.41,395.04 L564.67,395.04 L564.67,394.66 L566.93,394.66 L566.93,394.27 L569.19,394.27 L569.19,393.89 L571.44,393.89 L571.44,393.50 L573.70,393.50 L573.70,393.44 L575.96,393.44 L575.96,393.38 L578.22,393.38 L578.22,393.32 L580.48,393.32 L580.48,393.26 L582.74,393.26 L582.74,393.20 L585.00,393.20 L585.00,393.19 L587.21,393.19 L587.21,393.19 L589.42,393.19 L589.42,393.18 L591.63,393.18 L591.63,393.17 L593.84,393.17 L593.84,393.16 L596.05,393.16 L596.05,393.16 L598.26,393.16 L598.26,393.15 L600.47,393.15 L600.47,393.14 L602.68,393.14 L602.68,393.13 L604.89,393.13 L604.89,393.13 L607.10,393.13 L607.10,393.12 L609.31,393.12 L609.31,393.11 L611.52,393.11 L611.52,393.10 L613.73,393.10 L613.73,393.10 L615.94,393.10 L615.94,393.09 L618.15,393.09 L618.15,393.08 L620.36,393.08 L620.36,393.08 L622.57,393.08 L622.57,393.07 L624.78,393.07 L624.78,393.06 L626.99,393.06 L626.99,393.05 L629.20,393.05 L629.20,393.05 L631.40,393.05 L631.40,393.04 L633.61,393.04 L633.61,393.03 L635.82,393.03 L635.82,393.02 L638.03,393.02 L638.03,393.02 L640.24,393.02 L640.24,393.01 L642.45,393.01 L642.45,393.00 L644.66,393.00 L644.66,393.00 L646.87,393.00 L646.87,392.99 L649.08,392.99 L649.08,392.98 L651.29,392.98 L651.29,392.97 L653.50,392.97 L653.50,392.97 L655.71,392.97 L655.71,392.96 L657.92,392.96 L657.92,392.95 L660.13,392.95 L660.13,392.94 L662.34,392.94 L662.34,392.94 L664.55,392.94 L664.55,392.93 L666.76,392.93 L666.76,392.92 L668.97,392.92 L668.97,392.91 L671.18,392.91 L671.18,392.91 L673.39,392.91 L673.39,392.90 L675.60,392.90" fill="none" stroke="rgb(230,93,80)" stroke-width="1.2" stroke-linejoin="miter"/>
<line x1="506.00" y1="521.85" x2="676.00" y2="392.95" stroke="#7a7a7a" stroke-width="1.7" stroke-dasharray="5.2 2.6"/>
</svg>
<rect x="497.50" y="386.50" width="187.00" height="141.80" fill="none" stroke="#333" stroke-width="1"/>
<line x1="506.00" y1="528.30" x2="506.00" y2="531.10" stroke="#333" stroke-width="1"/>
<line x1="494.70" y1="521.85" x2="497.50" y2="521.85" stroke="#333" stroke-width="1"/>
<text x="506.00" y="539.00" font-size="8.80" text-anchor="middle" textLength="11.29" lengthAdjust="spacingAndGlyphs" fill="#111" stroke="#111" stroke-width="0.12">0.0</text>
<text x="492.70" y="524.95" font-size="8.80" text-anchor="end" textLength="11.29" lengthAdjust="spacingAndGlyphs" fill="#111" stroke="#111" stroke-width="0.12">0.0</text>
<line x1="540.00" y1="528.30" x2="540.00" y2="531.10" stroke="#333" stroke-width="1"/>
<line x1="494.70" y1="496.07" x2="497.50" y2="496.07" stroke="#333" stroke-width="1"/>
<text x="540.00" y="539.00" font-size="8.80" text-anchor="middle" textLength="11.29" lengthAdjust="spacingAndGlyphs" fill="#111" stroke="#111" stroke-width="0.12">0.2</text>
<text x="492.70" y="499.17" font-size="8.80" text-anchor="end" textLength="11.29" lengthAdjust="spacingAndGlyphs" fill="#111" stroke="#111" stroke-width="0.12">0.2</text>
<line x1="574.00" y1="528.30" x2="574.00" y2="531.10" stroke="#333" stroke-width="1"/>
<line x1="494.70" y1="470.29" x2="497.50" y2="470.29" stroke="#333" stroke-width="1"/>
<text x="574.00" y="539.00" font-size="8.80" text-anchor="middle" textLength="11.29" lengthAdjust="spacingAndGlyphs" fill="#111" stroke="#111" stroke-width="0.12">0.4</text>
<text x="492.70" y="473.39" font-size="8.80" text-anchor="end" textLength="11.29" lengthAdjust="spacingAndGlyphs" fill="#111" stroke="#111" stroke-width="0.12">0.4</text>
<line x1="608.00" y1="528.30" x2="608.00" y2="531.10" stroke="#333" stroke-width="1"/>
<line x1="494.70" y1="444.51" x2="497.50" y2="444.51" stroke="#333" stroke-width="1"/>
<text x="608.00" y="539.00" font-size="8.80" text-anchor="middle" textLength="11.29" lengthAdjust="spacingAndGlyphs" fill="#111" stroke="#111" stroke-width="0.12">0.6</text>
<text x="492.70" y="447.61" font-size="8.80" text-anchor="end" textLength="11.29" lengthAdjust="spacingAndGlyphs" fill="#111" stroke="#111" stroke-width="0.12">0.6</text>
<line x1="642.00" y1="528.30" x2="642.00" y2="531.10" stroke="#333" stroke-width="1"/>
<line x1="494.70" y1="418.73" x2="497.50" y2="418.73" stroke="#333" stroke-width="1"/>
<text x="642.00" y="539.00" font-size="8.80" text-anchor="middle" textLength="11.29" lengthAdjust="spacingAndGlyphs" fill="#111" stroke="#111" stroke-width="0.12">0.8</text>
<text x="492.70" y="421.83" font-size="8.80" text-anchor="end" textLength="11.29" lengthAdjust="spacingAndGlyphs" fill="#111" stroke="#111" stroke-width="0.12">0.8</text>
<line x1="676.00" y1="528.30" x2="676.00" y2="531.10" stroke="#333" stroke-width="1"/>
<line x1="494.70" y1="392.95" x2="497.50" y2="392.95" stroke="#333" stroke-width="1"/>
<text x="676.00" y="539.00" font-size="8.80" text-anchor="middle" textLength="11.29" lengthAdjust="spacingAndGlyphs" fill="#111" stroke="#111" stroke-width="0.12">1.0</text>
<text x="492.70" y="396.05" font-size="8.80" text-anchor="end" textLength="11.29" lengthAdjust="spacingAndGlyphs" fill="#111" stroke="#111" stroke-width="0.12">1.0</text>
<text x="591.00" y="550.00" font-size="8.70" text-anchor="middle" textLength="80.50" lengthAdjust="spacingAndGlyphs" fill="#111" stroke="#111" stroke-width="0.12">False Positive Rate</text>
<text x="477.80" y="457.40" font-size="8.70" text-anchor="middle" textLength="79.00" lengthAdjust="spacingAndGlyphs" fill="#111" stroke="#111" stroke-width="0.12" transform="rotate(-90 477.80 457.40)">True Positive Rate</text>
<rect x="554.20" y="452.80" width="126.70" height="72.50" rx="1.3" ry="1.3" fill="rgba(255,255,255,0.8)" stroke="#d6d6d6" stroke-width="0.8"/>
<line x1="556.20" y1="463.40" x2="572.60" y2="463.40" stroke="rgb(18,176,184)" stroke-width="4.80"/>
<text x="576.70" y="460.56" font-size="7.40" textLength="63.75" lengthAdjust="spacingAndGlyphs" fill="#111" stroke="#111" stroke-width="0.12">TE-CAP, AUC=0.85</text>
<text x="576.70" y="468.16" font-size="7.40" textLength="72.80" lengthAdjust="spacingAndGlyphs" fill="#111" stroke="#111" stroke-width="0.12">(95% CI:0.817-0.882)</text>
<line x1="556.20" y1="480.70" x2="572.60" y2="480.70" stroke="rgb(114,184,210)" stroke-width="4.80"/>
<text x="576.70" y="477.86" font-size="7.40" textLength="101.57" lengthAdjust="spacingAndGlyphs" fill="#111" stroke="#111" stroke-width="0.12">Unimodal clinical, AUC=0.871</text>
<text x="576.70" y="485.46" font-size="7.40" textLength="72.80" lengthAdjust="spacingAndGlyphs" fill="#111" stroke="#111" stroke-width="0.12">(95% CI:0.834-0.906)</text>
<line x1="556.20" y1="499.20" x2="572.60" y2="499.20" stroke="rgb(254,201,106)" stroke-width="4.80"/>
<text x="576.70" y="496.36" font-size="7.40" textLength="99.36" lengthAdjust="spacingAndGlyphs" fill="#111" stroke="#111" stroke-width="0.12">Unimodal Image, AUC=0.952</text>
<text x="576.70" y="503.96" font-size="7.40" textLength="72.80" lengthAdjust="spacingAndGlyphs" fill="#111" stroke="#111" stroke-width="0.12">(95% CI:0.929-0.971)</text>
<line x1="556.20" y1="517.40" x2="572.60" y2="517.40" stroke="rgb(230,93,80)" stroke-width="4.80"/>
<text x="576.70" y="514.56" font-size="7.40" textLength="68.05" lengthAdjust="spacingAndGlyphs" fill="#111" stroke="#111" stroke-width="0.12">MAOSS, AUC=0.963</text>
<text x="576.70" y="522.16" font-size="7.40" textLength="72.80" lengthAdjust="spacingAndGlyphs" fill="#111" stroke="#111" stroke-width="0.12">(95% CI:0.943-0.979)</text>
<svg x="57.50" y="203.50" width="184.10" height="142.10" viewBox="57.50 203.50 184.10 142.10" overflow="hidden">
<rect x="65.87" y="304.47" width="11.08" height="43.13" fill="rgb(54,190,198)" stroke="#3a3a3a" stroke-width="0.9"/>
<rect x="76.94" y="295.74" width="11.08" height="51.86" fill="rgb(144,202,222)" stroke="#3a3a3a" stroke-width="0.9"/>
<rect x="88.02" y="281.78" width="11.08" height="65.82" fill="rgb(252,214,138)" stroke="#3a3a3a" stroke-width="0.9"/>
<rect x="99.09" y="272.06" width="11.08" height="75.54" fill="rgb(236,128,118)" stroke="#3a3a3a" stroke-width="0.9"/>
<rect x="127.40" y="208.49" width="11.08" height="139.11" fill="rgb(54,190,198)" stroke="#3a3a3a" stroke-width="0.9"/>
<rect x="138.47" y="208.49" width="11.08" height="139.11" fill="rgb(144,202,222)" stroke="#3a3a3a" stroke-width="0.9"/>
<rect x="149.55" y="208.49" width="11.08" height="139.11" fill="rgb(252,214,138)" stroke="#3a3a3a" stroke-width="0.9"/>
<rect x="160.63" y="208.49" width="11.08" height="139.11" fill="rgb(236,128,118)" stroke="#3a3a3a" stroke-width="0.9"/>
<rect x="188.93" y="256.60" width="11.08" height="91.00" fill="rgb(54,190,198)" stroke="#3a3a3a" stroke-width="0.9"/>
<rect x="200.01" y="252.11" width="11.08" height="95.49" fill="rgb(144,202,222)" stroke="#3a3a3a" stroke-width="0.9"/>
<rect x="211.08" y="244.88" width="11.08" height="102.72" fill="rgb(252,214,138)" stroke="#3a3a3a" stroke-width="0.9"/>
<rect x="222.16" y="240.40" width="11.08" height="107.20" fill="rgb(236,128,118)" stroke="#3a3a3a" stroke-width="0.9"/>
<text x="74.31" y="343.00" font-size="9.90" textLength="19.04" lengthAdjust="spacingAndGlyphs" fill="#111" stroke="#111" stroke-width="0.12" transform="rotate(-90 74.31 343.00)">61.5</text>
<text x="85.38" y="343.00" font-size="9.90" textLength="19.04" lengthAdjust="spacingAndGlyphs" fill="#111" stroke="#111" stroke-width="0.12" transform="rotate(-90 85.38 343.00)">65.0</text>
<text x="96.46" y="343.00" font-size="9.90" textLength="19.04" lengthAdjust="spacingAndGlyphs" fill="#111" stroke="#111" stroke-width="0.12" transform="rotate(-90 96.46 343.00)">70.6</text>
<text x="107.53" y="343.00" font-size="9.90" textLength="19.04" lengthAdjust="spacingAndGlyphs" fill="#111" stroke="#111" stroke-width="0.12" transform="rotate(-90 107.53 343.00)">74.5</text>
<text x="135.84" y="343.00" font-size="9.90" textLength="24.48" lengthAdjust="spacingAndGlyphs" fill="#111" stroke="#111" stroke-width="0.12" transform="rotate(-90 135.84 343.00)">100.0</text>
<text x="146.91" y="343.00" font-size="9.90" textLength="24.48" lengthAdjust="spacingAndGlyphs" fill="#111" stroke="#111" stroke-width="0.12" transform="rotate(-90 146.91 343.00)">100.0</text>
<text x="157.99" y="343.00" font-size="9.90" textLength="24.48" lengthAdjust="spacingAndGlyphs" fill="#111" stroke="#111" stroke-width="0.12" transform="rotate(-90 157.99 343.00)">100.0</text>
<text x="169.06" y="343.00" font-size="9.90" textLength="24.48" lengthAdjust="spacingAndGlyphs" fill="#111" stroke="#111" stroke-width="0.12" transform="rotate(-90 169.06 343.00)">100.0</text>
<text x="197.37" y="343.00" font-size="9.90" textLength="19.04" lengthAdjust="spacingAndGlyphs" fill="#111" stroke="#111" stroke-width="0.12" transform="rotate(-90 197.37 343.00)">80.7</text>
<text x="208.44" y="343.00" font-size="9.90" textLength="19.04" lengthAdjust="spacingAndGlyphs" fill="#111" stroke="#111" stroke-width="0.12" transform="rotate(-90 208.44 343.00)">82.5</text>
<text x="219.52" y="343.00" font-size="9.90" textLength="19.04" lengthAdjust="spacingAndGlyphs" fill="#111" stroke="#111" stroke-width="0.12" transform="rotate(-90 219.52 343.00)">85.4</text>
<text x="230.59" y="343.00" font-size="9.90" textLength="19.04" lengthAdjust="spacingAndGlyphs" fill="#111" stroke="#111" stroke-width="0.12" transform="rotate(-90 230.59 343.00)">87.2</text>
<line x1="71.41" y1="286.27" x2="71.41" y2="324.16" stroke="#777" stroke-width="0.9"/>
<circle cx="71.41" cy="304.47" r="1.9" fill="#000"/>
<circle cx="71.41" cy="286.27" r="1.9" fill="#0000ff"/>
<circle cx="71.41" cy="324.16" r="1.9" fill="#ff0000"/>
<line x1="82.48" y1="278.54" x2="82.48" y2="314.69" stroke="#777" stroke-width="0.9"/>
<circle cx="82.48" cy="295.74" r="1.9" fill="#000"/>
<circle cx="82.48" cy="278.54" r="1.9" fill="#0000ff"/>
<circle cx="82.48" cy="314.69" r="1.9" fill="#ff0000"/>
<line x1="93.56" y1="263.83" x2="93.56" y2="299.23" stroke="#777" stroke-width="0.9"/>
<circle cx="93.56" cy="281.78" r="1.9" fill="#000"/>
<circle cx="93.56" cy="263.83" r="1.9" fill="#0000ff"/>
<circle cx="93.56" cy="299.23" r="1.9" fill="#ff0000"/>
<line x1="104.63" y1="254.36" x2="104.63" y2="288.26" stroke="#777" stroke-width="0.9"/>
<circle cx="104.63" cy="272.06" r="1.9" fill="#000"/>
<circle cx="104.63" cy="254.36" r="1.9" fill="#0000ff"/>
<circle cx="104.63" cy="288.26" r="1.9" fill="#ff0000"/>
<line x1="132.94" y1="208.49" x2="132.94" y2="208.49" stroke="#777" stroke-width="0.9"/>
<circle cx="132.94" cy="208.49" r="1.9" fill="#000"/>
<circle cx="132.94" cy="208.49" r="1.9" fill="#0000ff"/>
<circle cx="132.94" cy="208.49" r="1.9" fill="#ff0000"/>
<line x1="144.01" y1="208.49" x2="144.01" y2="208.49" stroke="#777" stroke-width="0.9"/>
<circle cx="144.01" cy="208.49" r="1.9" fill="#000"/>
<circle cx="144.01" cy="208.49" r="1.9" fill="#0000ff"/>
<circle cx="144.01" cy="208.49" r="1.9" fill="#ff0000"/>
<line x1="155.09" y1="208.49" x2="155.09" y2="208.49" stroke="#777" stroke-width="0.9"/>
<circle cx="155.09" cy="208.49" r="1.9" fill="#000"/>
<circle cx="155.09" cy="208.49" r="1.9" fill="#0000ff"/>
<circle cx="155.09" cy="208.49" r="1.9" fill="#ff0000"/>
<line x1="166.16" y1="208.49" x2="166.16" y2="208.49" stroke="#777" stroke-width="0.9"/>
<circle cx="166.16" cy="208.49" r="1.9" fill="#000"/>
<circle cx="166.16" cy="208.49" r="1.9" fill="#0000ff"/>
<circle cx="166.16" cy="208.49" r="1.9" fill="#ff0000"/>
<line x1="194.47" y1="247.88" x2="194.47" y2="265.08" stroke="#777" stroke-width="0.9"/>
<circle cx="194.47" cy="256.60" r="1.9" fill="#000"/>
<circle cx="194.47" cy="247.88" r="1.9" fill="#0000ff"/>
<circle cx="194.47" cy="265.08" r="1.9" fill="#ff0000"/>
<line x1="205.54" y1="243.39" x2="205.54" y2="260.84" stroke="#777" stroke-width="0.9"/>
<circle cx="205.54" cy="252.11" r="1.9" fill="#000"/>
<circle cx="205.54" cy="243.39" r="1.9" fill="#0000ff"/>
<circle cx="205.54" cy="260.84" r="1.9" fill="#ff0000"/>
<line x1="216.62" y1="236.91" x2="216.62" y2="253.61" stroke="#777" stroke-width="0.9"/>
<circle cx="216.62" cy="244.88" r="1.9" fill="#000"/>
<circle cx="216.62" cy="236.91" r="1.9" fill="#0000ff"/>
<circle cx="216.62" cy="253.61" r="1.9" fill="#ff0000"/>
<line x1="227.69" y1="231.92" x2="227.69" y2="248.62" stroke="#777" stroke-width="0.9"/>
<circle cx="227.69" cy="240.40" r="1.9" fill="#000"/>
<circle cx="227.69" cy="231.92" r="1.9" fill="#0000ff"/>
<circle cx="227.69" cy="248.62" r="1.9" fill="#ff0000"/>
<rect x="59.40" y="205.60" width="67.10" height="52.60" rx="1.5" ry="1.5" fill="rgba(255,255,255,0.8)" stroke="#d6d6d6" stroke-width="0.8"/>
<circle cx="66.70" cy="210.30" r="1.8" fill="#000"/>
<text x="75.80" y="212.30" font-size="5.60" textLength="13.98" lengthAdjust="spacingAndGlyphs" stroke="#000" stroke-width="0.12">mean</text>
<circle cx="66.70" cy="217.53" r="1.8" fill="#0000ff"/>
<text x="75.80" y="219.53" font-size="5.60" textLength="48.96" lengthAdjust="spacingAndGlyphs" stroke="#000" stroke-width="0.12">95%CI upper bound</text>
<circle cx="66.70" cy="224.76" r="1.8" fill="#ff0000"/>
<text x="75.80" y="226.76" font-size="5.60" textLength="47.99" lengthAdjust="spacingAndGlyphs" stroke="#000" stroke-width="0.12">95%CI lower bound</text>
<rect x="61.40" y="230.09" width="10.30" height="3.8" fill="rgb(54,190,198)" stroke="#3a3a3a" stroke-width="0.7"/>
<text x="75.80" y="233.99" font-size="5.60" textLength="17.69" lengthAdjust="spacingAndGlyphs" stroke="#000" stroke-width="0.12">TE-CAP</text>
<rect x="61.40" y="237.32" width="10.30" height="3.8" fill="rgb(144,202,222)" stroke="#3a3a3a" stroke-width="0.7"/>
<text x="75.80" y="241.22" font-size="5.60" textLength="42.79" lengthAdjust="spacingAndGlyphs" stroke="#000" stroke-width="0.12">Unimodal Clinical</text>
<rect x="61.40" y="244.55" width="10.30" height="3.8" fill="rgb(252,214,138)" stroke="#3a3a3a" stroke-width="0.7"/>
<text x="75.80" y="248.45" font-size="5.60" textLength="40.45" lengthAdjust="spacingAndGlyphs" stroke="#000" stroke-width="0.12">Unimodal Image</text>
<rect x="61.40" y="251.78" width="10.30" height="3.8" fill="rgb(236,128,118)" stroke="#3a3a3a" stroke-width="0.7"/>
<text x="75.80" y="255.68" font-size="5.60" textLength="17.68" lengthAdjust="spacingAndGlyphs" stroke="#000" stroke-width="0.12">MAOSS</text>
</svg>
<rect x="57.50" y="203.50" width="184.10" height="142.10" fill="none" stroke="#333" stroke-width="1"/>
<line x1="54.70" y1="333.14" x2="57.50" y2="333.14" stroke="#333" stroke-width="1"/>
<text x="52.50" y="336.24" font-size="8.80" text-anchor="end" textLength="9.03" lengthAdjust="spacingAndGlyphs" fill="#111" stroke="#111" stroke-width="0.12">50</text>
<line x1="54.70" y1="308.21" x2="57.50" y2="308.21" stroke="#333" stroke-width="1"/>
<text x="52.50" y="311.31" font-size="8.80" text-anchor="end" textLength="9.03" lengthAdjust="spacingAndGlyphs" fill="#111" stroke="#111" stroke-width="0.12">60</text>
<line x1="54.70" y1="283.28" x2="57.50" y2="283.28" stroke="#333" stroke-width="1"/>
<text x="52.50" y="286.38" font-size="8.80" text-anchor="end" textLength="9.03" lengthAdjust="spacingAndGlyphs" fill="#111" stroke="#111" stroke-width="0.12">70</text>
<line x1="54.70" y1="258.35" x2="57.50" y2="258.35" stroke="#333" stroke-width="1"/>
<text x="52.50" y="261.45" font-size="8.80" text-anchor="end" textLength="9.03" lengthAdjust="spacingAndGlyphs" fill="#111" stroke="#111" stroke-width="0.12">80</text>
<line x1="54.70" y1="233.42" x2="57.50" y2="233.42" stroke="#333" stroke-width="1"/>
<text x="52.50" y="236.52" font-size="8.80" text-anchor="end" textLength="9.03" lengthAdjust="spacingAndGlyphs" fill="#111" stroke="#111" stroke-width="0.12">90</text>
<line x1="54.70" y1="208.49" x2="57.50" y2="208.49" stroke="#333" stroke-width="1"/>
<text x="52.50" y="211.59" font-size="8.80" text-anchor="end" textLength="13.55" lengthAdjust="spacingAndGlyphs" fill="#111" stroke="#111" stroke-width="0.12">100</text>
<line x1="88.02" y1="345.60" x2="88.02" y2="348.40" stroke="#333" stroke-width="1"/>
<text x="88.02" y="355.90" font-size="8.80" text-anchor="middle" textLength="38.40" lengthAdjust="spacingAndGlyphs" fill="#111" stroke="#111" stroke-width="0.12">Sensitivity</text>
<line x1="149.55" y1="345.60" x2="149.55" y2="348.40" stroke="#333" stroke-width="1"/>
<text x="149.55" y="355.90" font-size="8.80" text-anchor="middle" textLength="38.20" lengthAdjust="spacingAndGlyphs" fill="#111" stroke="#111" stroke-width="0.12">Specificity</text>
<line x1="211.08" y1="345.60" x2="211.08" y2="348.40" stroke="#333" stroke-width="1"/>
<text x="211.08" y="355.90" font-size="8.80" text-anchor="middle" textLength="19.80" lengthAdjust="spacingAndGlyphs" fill="#111" stroke="#111" stroke-width="0.12">BACC</text>
<text x="149.55" y="366.90" font-size="8.70" text-anchor="middle" textLength="89.00" lengthAdjust="spacingAndGlyphs" fill="#111" stroke="#111" stroke-width="0.12">Performance Metrics</text>
<text x="34.80" y="274.55" font-size="8.70" text-anchor="middle" textLength="45.70" lengthAdjust="spacingAndGlyphs" fill="#111" stroke="#111" stroke-width="0.12" transform="rotate(-90 34.80 274.55)">Values (%)</text>
<svg x="278.30" y="203.50" width="184.30" height="142.10" viewBox="278.30 203.50 184.30 142.10" overflow="hidden">
<rect x="286.68" y="272.80" width="11.09" height="74.80" fill="rgb(54,190,198)" stroke="#3a3a3a" stroke-width="0.9"/>
<rect x="297.76" y="270.06" width="11.09" height="77.54" fill="rgb(144,202,222)" stroke="#3a3a3a" stroke-width="0.9"/>
<rect x="308.85" y="253.61" width="11.09" height="93.99" fill="rgb(252,214,138)" stroke="#3a3a3a" stroke-width="0.9"/>
<rect x="319.94" y="250.37" width="11.09" height="97.23" fill="rgb(236,128,118)" stroke="#3a3a3a" stroke-width="0.9"/>
<rect x="348.27" y="245.13" width="11.09" height="102.47" fill="rgb(54,190,198)" stroke="#3a3a3a" stroke-width="0.9"/>
<rect x="359.36" y="237.65" width="11.09" height="109.95" fill="rgb(144,202,222)" stroke="#3a3a3a" stroke-width="0.9"/>
<rect x="370.45" y="247.88" width="11.09" height="99.72" fill="rgb(252,214,138)" stroke="#3a3a3a" stroke-width="0.9"/>
<rect x="381.54" y="244.88" width="11.09" height="102.72" fill="rgb(236,128,118)" stroke="#3a3a3a" stroke-width="0.9"/>
<rect x="409.87" y="259.09" width="11.09" height="88.51" fill="rgb(54,190,198)" stroke="#3a3a3a" stroke-width="0.9"/>
<rect x="420.96" y="253.86" width="11.09" height="93.74" fill="rgb(144,202,222)" stroke="#3a3a3a" stroke-width="0.9"/>
<rect x="432.05" y="250.37" width="11.09" height="97.23" fill="rgb(252,214,138)" stroke="#3a3a3a" stroke-width="0.9"/>
<rect x="443.14" y="247.88" width="11.09" height="99.72" fill="rgb(236,128,118)" stroke="#3a3a3a" stroke-width="0.9"/>
<text x="295.12" y="343.00" font-size="9.90" textLength="19.04" lengthAdjust="spacingAndGlyphs" fill="#111" stroke="#111" stroke-width="0.12" transform="rotate(-90 295.12 343.00)">74.2</text>
<text x="306.21" y="343.00" font-size="9.90" textLength="19.04" lengthAdjust="spacingAndGlyphs" fill="#111" stroke="#111" stroke-width="0.12" transform="rotate(-90 306.21 343.00)">75.3</text>
<text x="317.30" y="343.00" font-size="9.90" textLength="19.04" lengthAdjust="spacingAndGlyphs" fill="#111" stroke="#111" stroke-width="0.12" transform="rotate(-90 317.30 343.00)">81.9</text>
<text x="328.38" y="343.00" font-size="9.90" textLength="19.04" lengthAdjust="spacingAndGlyphs" fill="#111" stroke="#111" stroke-width="0.12" transform="rotate(-90 328.38 343.00)">83.2</text>
<text x="356.72" y="343.00" font-size="9.90" textLength="19.04" lengthAdjust="spacingAndGlyphs" fill="#111" stroke="#111" stroke-width="0.12" transform="rotate(-90 356.72 343.00)">85.3</text>
<text x="367.81" y="343.00" font-size="9.90" textLength="19.04" lengthAdjust="spacingAndGlyphs" fill="#111" stroke="#111" stroke-width="0.12" transform="rotate(-90 367.81 343.00)">88.3</text>
<text x="378.89" y="343.00" font-size="9.90" textLength="19.04" lengthAdjust="spacingAndGlyphs" fill="#111" stroke="#111" stroke-width="0.12" transform="rotate(-90 378.89 343.00)">84.2</text>
<text x="389.98" y="343.00" font-size="9.90" textLength="19.04" lengthAdjust="spacingAndGlyphs" fill="#111" stroke="#111" stroke-width="0.12" transform="rotate(-90 389.98 343.00)">85.4</text>
<text x="418.32" y="343.00" font-size="9.90" textLength="19.04" lengthAdjust="spacingAndGlyphs" fill="#111" stroke="#111" stroke-width="0.12" transform="rotate(-90 418.32 343.00)">79.7</text>
<text x="429.40" y="343.00" font-size="9.90" textLength="19.04" lengthAdjust="spacingAndGlyphs" fill="#111" stroke="#111" stroke-width="0.12" transform="rotate(-90 429.40 343.00)">81.8</text>
<text x="440.49" y="343.00" font-size="9.90" textLength="19.04" lengthAdjust="spacingAndGlyphs" fill="#111" stroke="#111" stroke-width="0.12" transform="rotate(-90 440.49 343.00)">83.2</text>
<text x="451.58" y="343.00" font-size="9.90" textLength="19.04" lengthAdjust="spacingAndGlyphs" fill="#111" stroke="#111" stroke-width="0.12" transform="rotate(-90 451.58 343.00)">84.2</text>
<line x1="292.22" y1="250.62" x2="292.22" y2="296.49" stroke="#777" stroke-width="0.9"/>
<circle cx="292.22" cy="272.80" r="1.9" fill="#000"/>
<circle cx="292.22" cy="250.62" r="1.9" fill="#0000ff"/>
<circle cx="292.22" cy="296.49" r="1.9" fill="#ff0000"/>
<line x1="303.31" y1="248.87" x2="303.31" y2="293.25" stroke="#777" stroke-width="0.9"/>
<circle cx="303.31" cy="270.06" r="1.9" fill="#000"/>
<circle cx="303.31" cy="248.87" r="1.9" fill="#0000ff"/>
<circle cx="303.31" cy="293.25" r="1.9" fill="#ff0000"/>
<line x1="314.40" y1="235.41" x2="314.40" y2="275.80" stroke="#777" stroke-width="0.9"/>
<circle cx="314.40" cy="253.61" r="1.9" fill="#000"/>
<circle cx="314.40" cy="235.41" r="1.9" fill="#0000ff"/>
<circle cx="314.40" cy="275.80" r="1.9" fill="#ff0000"/>
<line x1="325.48" y1="233.42" x2="325.48" y2="269.31" stroke="#777" stroke-width="0.9"/>
<circle cx="325.48" cy="250.37" r="1.9" fill="#000"/>
<circle cx="325.48" cy="233.42" r="1.9" fill="#0000ff"/>
<circle cx="325.48" cy="269.31" r="1.9" fill="#ff0000"/>
<line x1="353.82" y1="229.68" x2="353.82" y2="262.33" stroke="#777" stroke-width="0.9"/>
<circle cx="353.82" cy="245.13" r="1.9" fill="#000"/>
<circle cx="353.82" cy="229.68" r="1.9" fill="#0000ff"/>
<circle cx="353.82" cy="262.33" r="1.9" fill="#ff0000"/>
<line x1="364.91" y1="223.19" x2="364.91" y2="255.10" stroke="#777" stroke-width="0.9"/>
<circle cx="364.91" cy="237.65" r="1.9" fill="#000"/>
<circle cx="364.91" cy="223.19" r="1.9" fill="#0000ff"/>
<circle cx="364.91" cy="255.10" r="1.9" fill="#ff0000"/>
<line x1="375.99" y1="231.67" x2="375.99" y2="266.32" stroke="#777" stroke-width="0.9"/>
<circle cx="375.99" cy="247.88" r="1.9" fill="#000"/>
<circle cx="375.99" cy="231.67" r="1.9" fill="#0000ff"/>
<circle cx="375.99" cy="266.32" r="1.9" fill="#ff0000"/>
<line x1="387.08" y1="229.68" x2="387.08" y2="262.33" stroke="#777" stroke-width="0.9"/>
<circle cx="387.08" cy="244.88" r="1.9" fill="#000"/>
<circle cx="387.08" cy="229.68" r="1.9" fill="#0000ff"/>
<circle cx="387.08" cy="262.33" r="1.9" fill="#ff0000"/>
<line x1="415.42" y1="244.38" x2="415.42" y2="274.05" stroke="#777" stroke-width="0.9"/>
<circle cx="415.42" cy="259.09" r="1.9" fill="#000"/>
<circle cx="415.42" cy="244.38" r="1.9" fill="#0000ff"/>
<circle cx="415.42" cy="274.05" r="1.9" fill="#ff0000"/>
<line x1="426.50" y1="241.14" x2="426.50" y2="267.32" stroke="#777" stroke-width="0.9"/>
<circle cx="426.50" cy="253.86" r="1.9" fill="#000"/>
<circle cx="426.50" cy="241.14" r="1.9" fill="#0000ff"/>
<circle cx="426.50" cy="267.32" r="1.9" fill="#ff0000"/>
<line x1="437.59" y1="237.16" x2="437.59" y2="264.33" stroke="#777" stroke-width="0.9"/>
<circle cx="437.59" cy="250.37" r="1.9" fill="#000"/>
<circle cx="437.59" cy="237.16" r="1.9" fill="#0000ff"/>
<circle cx="437.59" cy="264.33" r="1.9" fill="#ff0000"/>
<line x1="448.68" y1="235.41" x2="448.68" y2="261.09" stroke="#777" stroke-width="0.9"/>
<circle cx="448.68" cy="247.88" r="1.9" fill="#000"/>
<circle cx="448.68" cy="235.41" r="1.9" fill="#0000ff"/>
<circle cx="448.68" cy="261.09" r="1.9" fill="#ff0000"/>
</svg>
<rect x="278.30" y="203.50" width="184.30" height="142.10" fill="none" stroke="#333" stroke-width="1"/>
<line x1="275.50" y1="333.14" x2="278.30" y2="333.14" stroke="#333" stroke-width="1"/>
<text x="273.30" y="336.24" font-size="8.80" text-anchor="end" textLength="9.03" lengthAdjust="spacingAndGlyphs" fill="#111" stroke="#111" stroke-width="0.12">50</text>
<line x1="275.50" y1="308.21" x2="278.30" y2="308.21" stroke="#333" stroke-width="1"/>
<text x="273.30" y="311.31" font-size="8.80" text-anchor="end" textLength="9.03" lengthAdjust="spacingAndGlyphs" fill="#111" stroke="#111" stroke-width="0.12">60</text>
<line x1="275.50" y1="283.28" x2="278.30" y2="283.28" stroke="#333" stroke-width="1"/>
<text x="273.30" y="286.38" font-size="8.80" text-anchor="end" textLength="9.03" lengthAdjust="spacingAndGlyphs" fill="#111" stroke="#111" stroke-width="0.12">70</text>
<line x1="275.50" y1="258.35" x2="278.30" y2="258.35" stroke="#333" stroke-width="1"/>
<text x="273.30" y="261.45" font-size="8.80" text-anchor="end" textLength="9.03" lengthAdjust="spacingAndGlyphs" fill="#111" stroke="#111" stroke-width="0.12">80</text>
<line x1="275.50" y1="233.42" x2="278.30" y2="233.42" stroke="#333" stroke-width="1"/>
<text x="273.30" y="236.52" font-size="8.80" text-anchor="end" textLength="9.03" lengthAdjust="spacingAndGlyphs" fill="#111" stroke="#111" stroke-width="0.12">90</text>
<line x1="275.50" y1="208.49" x2="278.30" y2="208.49" stroke="#333" stroke-width="1"/>
<text x="273.30" y="211.59" font-size="8.80" text-anchor="end" textLength="13.55" lengthAdjust="spacingAndGlyphs" fill="#111" stroke="#111" stroke-width="0.12">100</text>
<line x1="308.85" y1="345.60" x2="308.85" y2="348.40" stroke="#333" stroke-width="1"/>
<text x="308.85" y="355.90" font-size="8.80" text-anchor="middle" textLength="38.40" lengthAdjust="spacingAndGlyphs" fill="#111" stroke="#111" stroke-width="0.12">Sensitivity</text>
<line x1="370.45" y1="345.60" x2="370.45" y2="348.40" stroke="#333" stroke-width="1"/>
<text x="370.45" y="355.90" font-size="8.80" text-anchor="middle" textLength="38.20" lengthAdjust="spacingAndGlyphs" fill="#111" stroke="#111" stroke-width="0.12">Specificity</text>
<line x1="432.05" y1="345.60" x2="432.05" y2="348.40" stroke="#333" stroke-width="1"/>
<text x="432.05" y="355.90" font-size="8.80" text-anchor="middle" textLength="19.80" lengthAdjust="spacingAndGlyphs" fill="#111" stroke="#111" stroke-width="0.12">BACC</text>
<text x="370.45" y="366.90" font-size="8.70" text-anchor="middle" textLength="89.00" lengthAdjust="spacingAndGlyphs" fill="#111" stroke="#111" stroke-width="0.12">Performance Metrics</text>
<text x="255.60" y="274.55" font-size="8.70" text-anchor="middle" textLength="45.70" lengthAdjust="spacingAndGlyphs" fill="#111" stroke="#111" stroke-width="0.12" transform="rotate(-90 255.60 274.55)">Values (%)</text>
<svg x="498.60" y="203.50" width="184.70" height="142.10" viewBox="498.60 203.50 184.70 142.10" overflow="hidden">
<rect x="507.00" y="271.31" width="11.11" height="76.29" fill="rgb(54,190,198)" stroke="#3a3a3a" stroke-width="0.9"/>
<rect x="518.11" y="231.92" width="11.11" height="115.68" fill="rgb(144,202,222)" stroke="#3a3a3a" stroke-width="0.9"/>
<rect x="529.22" y="247.13" width="11.11" height="100.47" fill="rgb(252,214,138)" stroke="#3a3a3a" stroke-width="0.9"/>
<rect x="540.33" y="254.86" width="11.11" height="92.74" fill="rgb(236,128,118)" stroke="#3a3a3a" stroke-width="0.9"/>
<rect x="568.73" y="252.36" width="11.11" height="95.24" fill="rgb(54,190,198)" stroke="#3a3a3a" stroke-width="0.9"/>
<rect x="579.84" y="255.85" width="11.11" height="91.75" fill="rgb(144,202,222)" stroke="#3a3a3a" stroke-width="0.9"/>
<rect x="590.95" y="243.14" width="11.11" height="104.46" fill="rgb(252,214,138)" stroke="#3a3a3a" stroke-width="0.9"/>
<rect x="602.06" y="236.41" width="11.11" height="111.19" fill="rgb(236,128,118)" stroke="#3a3a3a" stroke-width="0.9"/>
<rect x="630.46" y="261.84" width="11.11" height="85.76" fill="rgb(54,190,198)" stroke="#3a3a3a" stroke-width="0.9"/>
<rect x="641.57" y="244.14" width="11.11" height="103.46" fill="rgb(144,202,222)" stroke="#3a3a3a" stroke-width="0.9"/>
<rect x="652.68" y="245.63" width="11.11" height="101.97" fill="rgb(252,214,138)" stroke="#3a3a3a" stroke-width="0.9"/>
<rect x="663.79" y="245.88" width="11.11" height="101.72" fill="rgb(236,128,118)" stroke="#3a3a3a" stroke-width="0.9"/>
<text x="515.45" y="343.00" font-size="9.90" textLength="19.04" lengthAdjust="spacingAndGlyphs" fill="#111" stroke="#111" stroke-width="0.12" transform="rotate(-90 515.45 343.00)">74.8</text>
<text x="526.56" y="343.00" font-size="9.90" textLength="19.04" lengthAdjust="spacingAndGlyphs" fill="#111" stroke="#111" stroke-width="0.12" transform="rotate(-90 526.56 343.00)">90.6</text>
<text x="537.67" y="343.00" font-size="9.90" textLength="19.04" lengthAdjust="spacingAndGlyphs" fill="#111" stroke="#111" stroke-width="0.12" transform="rotate(-90 537.67 343.00)">84.5</text>
<text x="548.79" y="343.00" font-size="9.90" textLength="19.04" lengthAdjust="spacingAndGlyphs" fill="#111" stroke="#111" stroke-width="0.12" transform="rotate(-90 548.79 343.00)">81.4</text>
<text x="577.18" y="343.00" font-size="9.90" textLength="19.04" lengthAdjust="spacingAndGlyphs" fill="#111" stroke="#111" stroke-width="0.12" transform="rotate(-90 577.18 343.00)">82.4</text>
<text x="588.29" y="343.00" font-size="9.90" textLength="19.04" lengthAdjust="spacingAndGlyphs" fill="#111" stroke="#111" stroke-width="0.12" transform="rotate(-90 588.29 343.00)">81.0</text>
<text x="599.41" y="343.00" font-size="9.90" textLength="19.04" lengthAdjust="spacingAndGlyphs" fill="#111" stroke="#111" stroke-width="0.12" transform="rotate(-90 599.41 343.00)">86.1</text>
<text x="610.52" y="343.00" font-size="9.90" textLength="19.04" lengthAdjust="spacingAndGlyphs" fill="#111" stroke="#111" stroke-width="0.12" transform="rotate(-90 610.52 343.00)">88.8</text>
<text x="638.91" y="343.00" font-size="9.90" textLength="19.04" lengthAdjust="spacingAndGlyphs" fill="#111" stroke="#111" stroke-width="0.12" transform="rotate(-90 638.91 343.00)">78.6</text>
<text x="650.03" y="343.00" font-size="9.90" textLength="19.04" lengthAdjust="spacingAndGlyphs" fill="#111" stroke="#111" stroke-width="0.12" transform="rotate(-90 650.03 343.00)">85.7</text>
<text x="661.14" y="343.00" font-size="9.90" textLength="19.04" lengthAdjust="spacingAndGlyphs" fill="#111" stroke="#111" stroke-width="0.12" transform="rotate(-90 661.14 343.00)">85.1</text>
<text x="672.25" y="343.00" font-size="9.90" textLength="19.04" lengthAdjust="spacingAndGlyphs" fill="#111" stroke="#111" stroke-width="0.12" transform="rotate(-90 672.25 343.00)">85.0</text>
<line x1="512.55" y1="236.16" x2="512.55" y2="310.20" stroke="#777" stroke-width="0.9"/>
<circle cx="512.55" cy="271.31" r="1.9" fill="#000"/>
<circle cx="512.55" cy="236.16" r="1.9" fill="#0000ff"/>
<circle cx="512.55" cy="310.20" r="1.9" fill="#ff0000"/>
<line x1="523.66" y1="208.49" x2="523.66" y2="260.34" stroke="#777" stroke-width="0.9"/>
<circle cx="523.66" cy="231.92" r="1.9" fill="#000"/>
<circle cx="523.66" cy="208.49" r="1.9" fill="#0000ff"/>
<circle cx="523.66" cy="260.34" r="1.9" fill="#ff0000"/>
<line x1="534.77" y1="217.71" x2="534.77" y2="282.28" stroke="#777" stroke-width="0.9"/>
<circle cx="534.77" cy="247.13" r="1.9" fill="#000"/>
<circle cx="534.77" cy="217.71" r="1.9" fill="#0000ff"/>
<circle cx="534.77" cy="282.28" r="1.9" fill="#ff0000"/>
<line x1="545.89" y1="223.44" x2="545.89" y2="291.50" stroke="#777" stroke-width="0.9"/>
<circle cx="545.89" cy="254.86" r="1.9" fill="#000"/>
<circle cx="545.89" cy="223.44" r="1.9" fill="#0000ff"/>
<circle cx="545.89" cy="291.50" r="1.9" fill="#ff0000"/>
<line x1="574.28" y1="238.40" x2="574.28" y2="267.32" stroke="#777" stroke-width="0.9"/>
<circle cx="574.28" cy="252.36" r="1.9" fill="#000"/>
<circle cx="574.28" cy="238.40" r="1.9" fill="#0000ff"/>
<circle cx="574.28" cy="267.32" r="1.9" fill="#ff0000"/>
<line x1="585.39" y1="241.89" x2="585.39" y2="270.81" stroke="#777" stroke-width="0.9"/>
<circle cx="585.39" cy="255.85" r="1.9" fill="#000"/>
<circle cx="585.39" cy="241.89" r="1.9" fill="#0000ff"/>
<circle cx="585.39" cy="270.81" r="1.9" fill="#ff0000"/>
<line x1="596.51" y1="229.93" x2="596.51" y2="256.35" stroke="#777" stroke-width="0.9"/>
<circle cx="596.51" cy="243.14" r="1.9" fill="#000"/>
<circle cx="596.51" cy="229.93" r="1.9" fill="#0000ff"/>
<circle cx="596.51" cy="256.35" r="1.9" fill="#ff0000"/>
<line x1="607.62" y1="224.44" x2="607.62" y2="249.12" stroke="#777" stroke-width="0.9"/>
<circle cx="607.62" cy="236.41" r="1.9" fill="#000"/>
<circle cx="607.62" cy="224.44" r="1.9" fill="#0000ff"/>
<circle cx="607.62" cy="249.12" r="1.9" fill="#ff0000"/>
<line x1="636.01" y1="241.64" x2="636.01" y2="283.52" stroke="#777" stroke-width="0.9"/>
<circle cx="636.01" cy="261.84" r="1.9" fill="#000"/>
<circle cx="636.01" cy="241.64" r="1.9" fill="#0000ff"/>
<circle cx="636.01" cy="283.52" r="1.9" fill="#ff0000"/>
<line x1="647.13" y1="230.42" x2="647.13" y2="260.09" stroke="#777" stroke-width="0.9"/>
<circle cx="647.13" cy="244.14" r="1.9" fill="#000"/>
<circle cx="647.13" cy="230.42" r="1.9" fill="#0000ff"/>
<circle cx="647.13" cy="260.09" r="1.9" fill="#ff0000"/>
<line x1="658.24" y1="230.67" x2="658.24" y2="263.33" stroke="#777" stroke-width="0.9"/>
<circle cx="658.24" cy="245.63" r="1.9" fill="#000"/>
<circle cx="658.24" cy="230.67" r="1.9" fill="#0000ff"/>
<circle cx="658.24" cy="263.33" r="1.9" fill="#ff0000"/>
<line x1="669.35" y1="229.18" x2="669.35" y2="266.57" stroke="#777" stroke-width="0.9"/>
<circle cx="669.35" cy="245.88" r="1.9" fill="#000"/>
<circle cx="669.35" cy="229.18" r="1.9" fill="#0000ff"/>
<circle cx="669.35" cy="266.57" r="1.9" fill="#ff0000"/>
</svg>
<rect x="498.60" y="203.50" width="184.70" height="142.10" fill="none" stroke="#333" stroke-width="1"/>
<line x1="495.80" y1="333.14" x2="498.60" y2="333.14" stroke="#333" stroke-width="1"/>
<text x="493.60" y="336.24" font-size="8.80" text-anchor="end" textLength="9.03" lengthAdjust="spacingAndGlyphs" fill="#111" stroke="#111" stroke-width="0.12">50</text>
<line x1="495.80" y1="308.21" x2="498.60" y2="308.21" stroke="#333" stroke-width="1"/>
<text x="493.60" y="311.31" font-size="8.80" text-anchor="end" textLength="9.03" lengthAdjust="spacingAndGlyphs" fill="#111" stroke="#111" stroke-width="0.12">60</text>
<line x1="495.80" y1="283.28" x2="498.60" y2="283.28" stroke="#333" stroke-width="1"/>
<text x="493.60" y="286.38" font-size="8.80" text-anchor="end" textLength="9.03" lengthAdjust="spacingAndGlyphs" fill="#111" stroke="#111" stroke-width="0.12">70</text>
<line x1="495.80" y1="258.35" x2="498.60" y2="258.35" stroke="#333" stroke-width="1"/>
<text x="493.60" y="261.45" font-size="8.80" text-anchor="end" textLength="9.03" lengthAdjust="spacingAndGlyphs" fill="#111" stroke="#111" stroke-width="0.12">80</text>
<line x1="495.80" y1="233.42" x2="498.60" y2="233.42" stroke="#333" stroke-width="1"/>
<text x="493.60" y="236.52" font-size="8.80" text-anchor="end" textLength="9.03" lengthAdjust="spacingAndGlyphs" fill="#111" stroke="#111" stroke-width="0.12">90</text>
<line x1="495.80" y1="208.49" x2="498.60" y2="208.49" stroke="#333" stroke-width="1"/>
<text x="493.60" y="211.59" font-size="8.80" text-anchor="end" textLength="13.55" lengthAdjust="spacingAndGlyphs" fill="#111" stroke="#111" stroke-width="0.12">100</text>
<line x1="529.22" y1="345.60" x2="529.22" y2="348.40" stroke="#333" stroke-width="1"/>
<text x="529.22" y="355.90" font-size="8.80" text-anchor="middle" textLength="38.40" lengthAdjust="spacingAndGlyphs" fill="#111" stroke="#111" stroke-width="0.12">Sensitivity</text>
<line x1="590.95" y1="345.60" x2="590.95" y2="348.40" stroke="#333" stroke-width="1"/>
<text x="590.95" y="355.90" font-size="8.80" text-anchor="middle" textLength="38.20" lengthAdjust="spacingAndGlyphs" fill="#111" stroke="#111" stroke-width="0.12">Specificity</text>
<line x1="652.68" y1="345.60" x2="652.68" y2="348.40" stroke="#333" stroke-width="1"/>
<text x="652.68" y="355.90" font-size="8.80" text-anchor="middle" textLength="19.80" lengthAdjust="spacingAndGlyphs" fill="#111" stroke="#111" stroke-width="0.12">BACC</text>
<text x="590.95" y="366.90" font-size="8.70" text-anchor="middle" textLength="89.00" lengthAdjust="spacingAndGlyphs" fill="#111" stroke="#111" stroke-width="0.12">Performance Metrics</text>
<text x="475.90" y="274.55" font-size="8.70" text-anchor="middle" textLength="45.70" lengthAdjust="spacingAndGlyphs" fill="#111" stroke="#111" stroke-width="0.12" transform="rotate(-90 475.90 274.55)">Values (%)</text>
<svg x="53.60" y="573.90" width="186.00" height="142.90" viewBox="53.60 573.90 186.00 142.90" overflow="hidden">
<rect x="62.05" y="679.45" width="11.19" height="39.35" fill="rgb(54,190,198)" stroke="#3a3a3a" stroke-width="0.9"/>
<rect x="73.24" y="658.89" width="11.19" height="59.91" fill="rgb(144,202,222)" stroke="#3a3a3a" stroke-width="0.9"/>
<rect x="84.43" y="646.10" width="11.19" height="72.70" fill="rgb(252,214,138)" stroke="#3a3a3a" stroke-width="0.9"/>
<rect x="95.62" y="631.56" width="11.19" height="87.24" fill="rgb(236,128,118)" stroke="#3a3a3a" stroke-width="0.9"/>
<rect x="124.22" y="586.44" width="11.19" height="132.36" fill="rgb(54,190,198)" stroke="#3a3a3a" stroke-width="0.9"/>
<rect x="135.41" y="578.91" width="11.19" height="139.89" fill="rgb(144,202,222)" stroke="#3a3a3a" stroke-width="0.9"/>
<rect x="146.60" y="578.91" width="11.19" height="139.89" fill="rgb(252,214,138)" stroke="#3a3a3a" stroke-width="0.9"/>
<rect x="157.79" y="586.44" width="11.19" height="132.36" fill="rgb(236,128,118)" stroke="#3a3a3a" stroke-width="0.9"/>
<rect x="186.39" y="633.57" width="11.19" height="85.23" fill="rgb(54,190,198)" stroke="#3a3a3a" stroke-width="0.9"/>
<rect x="197.58" y="619.03" width="11.19" height="99.77" fill="rgb(144,202,222)" stroke="#3a3a3a" stroke-width="0.9"/>
<rect x="208.77" y="612.76" width="11.19" height="106.04" fill="rgb(252,214,138)" stroke="#3a3a3a" stroke-width="0.9"/>
<rect x="219.96" y="609.00" width="11.19" height="109.80" fill="rgb(236,128,118)" stroke="#3a3a3a" stroke-width="0.9"/>
<text x="70.55" y="714.20" font-size="9.90" textLength="19.04" lengthAdjust="spacingAndGlyphs" fill="#111" stroke="#111" stroke-width="0.12" transform="rotate(-90 70.55 714.20)">59.9</text>
<text x="81.74" y="714.20" font-size="9.90" textLength="19.04" lengthAdjust="spacingAndGlyphs" fill="#111" stroke="#111" stroke-width="0.12" transform="rotate(-90 81.74 714.20)">68.1</text>
<text x="92.93" y="714.20" font-size="9.90" textLength="19.04" lengthAdjust="spacingAndGlyphs" fill="#111" stroke="#111" stroke-width="0.12" transform="rotate(-90 92.93 714.20)">73.2</text>
<text x="104.12" y="714.20" font-size="9.90" textLength="19.04" lengthAdjust="spacingAndGlyphs" fill="#111" stroke="#111" stroke-width="0.12" transform="rotate(-90 104.12 714.20)">79.0</text>
<text x="132.72" y="714.20" font-size="9.90" textLength="19.04" lengthAdjust="spacingAndGlyphs" fill="#111" stroke="#111" stroke-width="0.12" transform="rotate(-90 132.72 714.20)">97.0</text>
<text x="143.91" y="714.20" font-size="9.90" textLength="24.48" lengthAdjust="spacingAndGlyphs" fill="#111" stroke="#111" stroke-width="0.12" transform="rotate(-90 143.91 714.20)">100.0</text>
<text x="155.09" y="714.20" font-size="9.90" textLength="24.48" lengthAdjust="spacingAndGlyphs" fill="#111" stroke="#111" stroke-width="0.12" transform="rotate(-90 155.09 714.20)">100.0</text>
<text x="166.28" y="714.20" font-size="9.90" textLength="19.04" lengthAdjust="spacingAndGlyphs" fill="#111" stroke="#111" stroke-width="0.12" transform="rotate(-90 166.28 714.20)">97.0</text>
<text x="194.88" y="714.20" font-size="9.90" textLength="19.04" lengthAdjust="spacingAndGlyphs" fill="#111" stroke="#111" stroke-width="0.12" transform="rotate(-90 194.88 714.20)">78.2</text>
<text x="206.07" y="714.20" font-size="9.90" textLength="19.04" lengthAdjust="spacingAndGlyphs" fill="#111" stroke="#111" stroke-width="0.12" transform="rotate(-90 206.07 714.20)">84.0</text>
<text x="217.26" y="714.20" font-size="9.90" textLength="19.04" lengthAdjust="spacingAndGlyphs" fill="#111" stroke="#111" stroke-width="0.12" transform="rotate(-90 217.26 714.20)">86.5</text>
<text x="228.45" y="714.20" font-size="9.90" textLength="19.04" lengthAdjust="spacingAndGlyphs" fill="#111" stroke="#111" stroke-width="0.12" transform="rotate(-90 228.45 714.20)">88.0</text>
<line x1="67.65" y1="669.17" x2="67.65" y2="690.98" stroke="#777" stroke-width="0.9"/>
<circle cx="67.65" cy="679.45" r="1.9" fill="#000"/>
<circle cx="67.65" cy="669.17" r="1.9" fill="#0000ff"/>
<circle cx="67.65" cy="690.98" r="1.9" fill="#ff0000"/>
<line x1="78.84" y1="647.61" x2="78.84" y2="669.67" stroke="#777" stroke-width="0.9"/>
<circle cx="78.84" cy="658.89" r="1.9" fill="#000"/>
<circle cx="78.84" cy="647.61" r="1.9" fill="#0000ff"/>
<circle cx="78.84" cy="669.67" r="1.9" fill="#ff0000"/>
<line x1="90.03" y1="636.32" x2="90.03" y2="656.63" stroke="#777" stroke-width="0.9"/>
<circle cx="90.03" cy="646.10" r="1.9" fill="#000"/>
<circle cx="90.03" cy="636.32" r="1.9" fill="#0000ff"/>
<circle cx="90.03" cy="656.63" r="1.9" fill="#ff0000"/>
<line x1="101.22" y1="622.79" x2="101.22" y2="641.09" stroke="#777" stroke-width="0.9"/>
<circle cx="101.22" cy="631.56" r="1.9" fill="#000"/>
<circle cx="101.22" cy="622.79" r="1.9" fill="#0000ff"/>
<circle cx="101.22" cy="641.09" r="1.9" fill="#ff0000"/>
<line x1="129.82" y1="578.91" x2="129.82" y2="604.23" stroke="#777" stroke-width="0.9"/>
<circle cx="129.82" cy="586.44" r="1.9" fill="#000"/>
<circle cx="129.82" cy="578.91" r="1.9" fill="#0000ff"/>
<circle cx="129.82" cy="604.23" r="1.9" fill="#ff0000"/>
<line x1="141.01" y1="578.91" x2="141.01" y2="578.91" stroke="#777" stroke-width="0.9"/>
<circle cx="141.01" cy="578.91" r="1.9" fill="#000"/>
<circle cx="141.01" cy="578.91" r="1.9" fill="#0000ff"/>
<circle cx="141.01" cy="578.91" r="1.9" fill="#ff0000"/>
<line x1="152.19" y1="578.91" x2="152.19" y2="578.91" stroke="#777" stroke-width="0.9"/>
<circle cx="152.19" cy="578.91" r="1.9" fill="#000"/>
<circle cx="152.19" cy="578.91" r="1.9" fill="#0000ff"/>
<circle cx="152.19" cy="578.91" r="1.9" fill="#ff0000"/>
<line x1="163.38" y1="578.91" x2="163.38" y2="604.99" stroke="#777" stroke-width="0.9"/>
<circle cx="163.38" cy="586.44" r="1.9" fill="#000"/>
<circle cx="163.38" cy="578.91" r="1.9" fill="#0000ff"/>
<circle cx="163.38" cy="604.99" r="1.9" fill="#ff0000"/>
<line x1="191.98" y1="625.04" x2="191.98" y2="644.35" stroke="#777" stroke-width="0.9"/>
<circle cx="191.98" cy="633.57" r="1.9" fill="#000"/>
<circle cx="191.98" cy="625.04" r="1.9" fill="#0000ff"/>
<circle cx="191.98" cy="644.35" r="1.9" fill="#ff0000"/>
<line x1="203.17" y1="613.26" x2="203.17" y2="624.29" stroke="#777" stroke-width="0.9"/>
<circle cx="203.17" cy="619.03" r="1.9" fill="#000"/>
<circle cx="203.17" cy="613.26" r="1.9" fill="#0000ff"/>
<circle cx="203.17" cy="624.29" r="1.9" fill="#ff0000"/>
<line x1="214.36" y1="607.74" x2="214.36" y2="618.27" stroke="#777" stroke-width="0.9"/>
<circle cx="214.36" cy="612.76" r="1.9" fill="#000"/>
<circle cx="214.36" cy="607.74" r="1.9" fill="#0000ff"/>
<circle cx="214.36" cy="618.27" r="1.9" fill="#ff0000"/>
<line x1="225.55" y1="601.48" x2="225.55" y2="619.28" stroke="#777" stroke-width="0.9"/>
<circle cx="225.55" cy="609.00" r="1.9" fill="#000"/>
<circle cx="225.55" cy="601.48" r="1.9" fill="#0000ff"/>
<circle cx="225.55" cy="619.28" r="1.9" fill="#ff0000"/>
<rect x="56.10" y="576.40" width="67.70" height="53.20" rx="1.5" ry="1.5" fill="rgba(255,255,255,0.8)" stroke="#d6d6d6" stroke-width="0.8"/>
<circle cx="63.20" cy="580.70" r="1.8" fill="#000"/>
<text x="72.20" y="582.70" font-size="5.60" textLength="13.98" lengthAdjust="spacingAndGlyphs" stroke="#000" stroke-width="0.12">mean</text>
<circle cx="63.20" cy="587.97" r="1.8" fill="#0000ff"/>
<text x="72.20" y="589.97" font-size="5.60" textLength="48.96" lengthAdjust="spacingAndGlyphs" stroke="#000" stroke-width="0.12">95%CI upper bound</text>
<circle cx="63.20" cy="595.24" r="1.8" fill="#ff0000"/>
<text x="72.20" y="597.24" font-size="5.60" textLength="47.99" lengthAdjust="spacingAndGlyphs" stroke="#000" stroke-width="0.12">95%CI lower bound</text>
<rect x="58.20" y="600.61" width="10.30" height="3.8" fill="rgb(54,190,198)" stroke="#3a3a3a" stroke-width="0.7"/>
<text x="72.20" y="604.51" font-size="5.60" textLength="17.69" lengthAdjust="spacingAndGlyphs" stroke="#000" stroke-width="0.12">TE-CAP</text>
<rect x="58.20" y="607.88" width="10.30" height="3.8" fill="rgb(144,202,222)" stroke="#3a3a3a" stroke-width="0.7"/>
<text x="72.20" y="611.78" font-size="5.60" textLength="42.79" lengthAdjust="spacingAndGlyphs" stroke="#000" stroke-width="0.12">Unimodal Clinical</text>
<rect x="58.20" y="615.15" width="10.30" height="3.8" fill="rgb(252,214,138)" stroke="#3a3a3a" stroke-width="0.7"/>
<text x="72.20" y="619.05" font-size="5.60" textLength="40.45" lengthAdjust="spacingAndGlyphs" stroke="#000" stroke-width="0.12">Unimodal Image</text>
<rect x="58.20" y="622.42" width="10.30" height="3.8" fill="rgb(236,128,118)" stroke="#3a3a3a" stroke-width="0.7"/>
<text x="72.20" y="626.32" font-size="5.60" textLength="17.68" lengthAdjust="spacingAndGlyphs" stroke="#000" stroke-width="0.12">MAOSS</text>
</svg>
<rect x="53.60" y="573.90" width="186.00" height="142.90" fill="none" stroke="#333" stroke-width="1"/>
<line x1="50.80" y1="704.26" x2="53.60" y2="704.26" stroke="#333" stroke-width="1"/>
<text x="48.60" y="707.36" font-size="8.80" text-anchor="end" textLength="9.03" lengthAdjust="spacingAndGlyphs" fill="#111" stroke="#111" stroke-width="0.12">50</text>
<line x1="50.80" y1="679.19" x2="53.60" y2="679.19" stroke="#333" stroke-width="1"/>
<text x="48.60" y="682.29" font-size="8.80" text-anchor="end" textLength="9.03" lengthAdjust="spacingAndGlyphs" fill="#111" stroke="#111" stroke-width="0.12">60</text>
<line x1="50.80" y1="654.12" x2="53.60" y2="654.12" stroke="#333" stroke-width="1"/>
<text x="48.60" y="657.22" font-size="8.80" text-anchor="end" textLength="9.03" lengthAdjust="spacingAndGlyphs" fill="#111" stroke="#111" stroke-width="0.12">70</text>
<line x1="50.80" y1="629.05" x2="53.60" y2="629.05" stroke="#333" stroke-width="1"/>
<text x="48.60" y="632.15" font-size="8.80" text-anchor="end" textLength="9.03" lengthAdjust="spacingAndGlyphs" fill="#111" stroke="#111" stroke-width="0.12">80</text>
<line x1="50.80" y1="603.98" x2="53.60" y2="603.98" stroke="#333" stroke-width="1"/>
<text x="48.60" y="607.08" font-size="8.80" text-anchor="end" textLength="9.03" lengthAdjust="spacingAndGlyphs" fill="#111" stroke="#111" stroke-width="0.12">90</text>
<line x1="50.80" y1="578.91" x2="53.60" y2="578.91" stroke="#333" stroke-width="1"/>
<text x="48.60" y="582.01" font-size="8.80" text-anchor="end" textLength="13.55" lengthAdjust="spacingAndGlyphs" fill="#111" stroke="#111" stroke-width="0.12">100</text>
<line x1="84.43" y1="716.80" x2="84.43" y2="719.60" stroke="#333" stroke-width="1"/>
<text x="84.43" y="727.10" font-size="8.80" text-anchor="middle" textLength="38.40" lengthAdjust="spacingAndGlyphs" fill="#111" stroke="#111" stroke-width="0.12">Sensitivity</text>
<line x1="146.60" y1="716.80" x2="146.60" y2="719.60" stroke="#333" stroke-width="1"/>
<text x="146.60" y="727.10" font-size="8.80" text-anchor="middle" textLength="38.20" lengthAdjust="spacingAndGlyphs" fill="#111" stroke="#111" stroke-width="0.12">Specificity</text>
<line x1="208.77" y1="716.80" x2="208.77" y2="719.60" stroke="#333" stroke-width="1"/>
<text x="208.77" y="727.10" font-size="8.80" text-anchor="middle" textLength="19.80" lengthAdjust="spacingAndGlyphs" fill="#111" stroke="#111" stroke-width="0.12">BACC</text>
<text x="146.60" y="738.10" font-size="8.70" text-anchor="middle" textLength="89.00" lengthAdjust="spacingAndGlyphs" fill="#111" stroke="#111" stroke-width="0.12">Performance Metrics</text>
<text x="30.90" y="645.35" font-size="8.70" text-anchor="middle" textLength="45.70" lengthAdjust="spacingAndGlyphs" fill="#111" stroke="#111" stroke-width="0.12" transform="rotate(-90 30.90 645.35)">Values (%)</text>
<svg x="275.60" y="573.90" width="186.20" height="142.90" viewBox="275.60 573.90 186.20 142.90" overflow="hidden">
<rect x="284.06" y="626.30" width="11.20" height="92.50" fill="rgb(54,190,198)" stroke="#3a3a3a" stroke-width="0.9"/>
<rect x="295.27" y="628.80" width="11.20" height="90.00" fill="rgb(144,202,222)" stroke="#3a3a3a" stroke-width="0.9"/>
<rect x="306.47" y="625.29" width="11.20" height="93.51" fill="rgb(252,214,138)" stroke="#3a3a3a" stroke-width="0.9"/>
<rect x="317.67" y="631.31" width="11.20" height="87.49" fill="rgb(236,128,118)" stroke="#3a3a3a" stroke-width="0.9"/>
<rect x="346.30" y="618.27" width="11.20" height="100.53" fill="rgb(54,190,198)" stroke="#3a3a3a" stroke-width="0.9"/>
<rect x="357.50" y="612.76" width="11.20" height="106.04" fill="rgb(144,202,222)" stroke="#3a3a3a" stroke-width="0.9"/>
<rect x="368.70" y="606.99" width="11.20" height="111.81" fill="rgb(252,214,138)" stroke="#3a3a3a" stroke-width="0.9"/>
<rect x="379.90" y="595.71" width="11.20" height="123.09" fill="rgb(236,128,118)" stroke="#3a3a3a" stroke-width="0.9"/>
<rect x="408.53" y="622.03" width="11.20" height="96.77" fill="rgb(54,190,198)" stroke="#3a3a3a" stroke-width="0.9"/>
<rect x="419.73" y="621.03" width="11.20" height="97.77" fill="rgb(144,202,222)" stroke="#3a3a3a" stroke-width="0.9"/>
<rect x="430.93" y="616.27" width="11.20" height="102.53" fill="rgb(252,214,138)" stroke="#3a3a3a" stroke-width="0.9"/>
<rect x="442.13" y="613.51" width="11.20" height="105.29" fill="rgb(236,128,118)" stroke="#3a3a3a" stroke-width="0.9"/>
<text x="292.56" y="714.20" font-size="9.90" textLength="19.04" lengthAdjust="spacingAndGlyphs" fill="#111" stroke="#111" stroke-width="0.12" transform="rotate(-90 292.56 714.20)">81.1</text>
<text x="303.77" y="714.20" font-size="9.90" textLength="19.04" lengthAdjust="spacingAndGlyphs" fill="#111" stroke="#111" stroke-width="0.12" transform="rotate(-90 303.77 714.20)">80.1</text>
<text x="314.97" y="714.20" font-size="9.90" textLength="19.04" lengthAdjust="spacingAndGlyphs" fill="#111" stroke="#111" stroke-width="0.12" transform="rotate(-90 314.97 714.20)">81.5</text>
<text x="326.17" y="714.20" font-size="9.90" textLength="19.04" lengthAdjust="spacingAndGlyphs" fill="#111" stroke="#111" stroke-width="0.12" transform="rotate(-90 326.17 714.20)">79.1</text>
<text x="354.80" y="714.20" font-size="9.90" textLength="19.04" lengthAdjust="spacingAndGlyphs" fill="#111" stroke="#111" stroke-width="0.12" transform="rotate(-90 354.80 714.20)">84.3</text>
<text x="366.00" y="714.20" font-size="9.90" textLength="19.04" lengthAdjust="spacingAndGlyphs" fill="#111" stroke="#111" stroke-width="0.12" transform="rotate(-90 366.00 714.20)">86.5</text>
<text x="377.20" y="714.20" font-size="9.90" textLength="19.04" lengthAdjust="spacingAndGlyphs" fill="#111" stroke="#111" stroke-width="0.12" transform="rotate(-90 377.20 714.20)">88.8</text>
<text x="388.40" y="714.20" font-size="9.90" textLength="19.04" lengthAdjust="spacingAndGlyphs" fill="#111" stroke="#111" stroke-width="0.12" transform="rotate(-90 388.40 714.20)">93.3</text>
<text x="417.03" y="714.20" font-size="9.90" textLength="19.04" lengthAdjust="spacingAndGlyphs" fill="#111" stroke="#111" stroke-width="0.12" transform="rotate(-90 417.03 714.20)">82.8</text>
<text x="428.23" y="714.20" font-size="9.90" textLength="19.04" lengthAdjust="spacingAndGlyphs" fill="#111" stroke="#111" stroke-width="0.12" transform="rotate(-90 428.23 714.20)">83.2</text>
<text x="439.43" y="714.20" font-size="9.90" textLength="19.04" lengthAdjust="spacingAndGlyphs" fill="#111" stroke="#111" stroke-width="0.12" transform="rotate(-90 439.43 714.20)">85.1</text>
<text x="450.64" y="714.20" font-size="9.90" textLength="19.04" lengthAdjust="spacingAndGlyphs" fill="#111" stroke="#111" stroke-width="0.12" transform="rotate(-90 450.64 714.20)">86.2</text>
<line x1="289.66" y1="614.26" x2="289.66" y2="639.33" stroke="#777" stroke-width="0.9"/>
<circle cx="289.66" cy="626.30" r="1.9" fill="#000"/>
<circle cx="289.66" cy="614.26" r="1.9" fill="#0000ff"/>
<circle cx="289.66" cy="639.33" r="1.9" fill="#ff0000"/>
<line x1="300.87" y1="617.27" x2="300.87" y2="640.34" stroke="#777" stroke-width="0.9"/>
<circle cx="300.87" cy="628.80" r="1.9" fill="#000"/>
<circle cx="300.87" cy="617.27" r="1.9" fill="#0000ff"/>
<circle cx="300.87" cy="640.34" r="1.9" fill="#ff0000"/>
<line x1="312.07" y1="614.01" x2="312.07" y2="638.33" stroke="#777" stroke-width="0.9"/>
<circle cx="312.07" cy="625.29" r="1.9" fill="#000"/>
<circle cx="312.07" cy="614.01" r="1.9" fill="#0000ff"/>
<circle cx="312.07" cy="638.33" r="1.9" fill="#ff0000"/>
<line x1="323.27" y1="619.28" x2="323.27" y2="644.60" stroke="#777" stroke-width="0.9"/>
<circle cx="323.27" cy="631.31" r="1.9" fill="#000"/>
<circle cx="323.27" cy="619.28" r="1.9" fill="#0000ff"/>
<circle cx="323.27" cy="644.60" r="1.9" fill="#ff0000"/>
<line x1="351.90" y1="605.49" x2="351.90" y2="630.31" stroke="#777" stroke-width="0.9"/>
<circle cx="351.90" cy="618.27" r="1.9" fill="#000"/>
<circle cx="351.90" cy="605.49" r="1.9" fill="#0000ff"/>
<circle cx="351.90" cy="630.31" r="1.9" fill="#ff0000"/>
<line x1="363.10" y1="602.23" x2="363.10" y2="624.04" stroke="#777" stroke-width="0.9"/>
<circle cx="363.10" cy="612.76" r="1.9" fill="#000"/>
<circle cx="363.10" cy="602.23" r="1.9" fill="#0000ff"/>
<circle cx="363.10" cy="624.04" r="1.9" fill="#ff0000"/>
<line x1="374.30" y1="597.22" x2="374.30" y2="617.77" stroke="#777" stroke-width="0.9"/>
<circle cx="374.30" cy="606.99" r="1.9" fill="#000"/>
<circle cx="374.30" cy="597.22" r="1.9" fill="#0000ff"/>
<circle cx="374.30" cy="617.77" r="1.9" fill="#ff0000"/>
<line x1="385.50" y1="588.19" x2="385.50" y2="604.99" stroke="#777" stroke-width="0.9"/>
<circle cx="385.50" cy="595.71" r="1.9" fill="#000"/>
<circle cx="385.50" cy="588.19" r="1.9" fill="#0000ff"/>
<circle cx="385.50" cy="604.99" r="1.9" fill="#ff0000"/>
<line x1="414.13" y1="613.51" x2="414.13" y2="630.81" stroke="#777" stroke-width="0.9"/>
<circle cx="414.13" cy="622.03" r="1.9" fill="#000"/>
<circle cx="414.13" cy="613.51" r="1.9" fill="#0000ff"/>
<circle cx="414.13" cy="630.81" r="1.9" fill="#ff0000"/>
<line x1="425.33" y1="613.01" x2="425.33" y2="629.81" stroke="#777" stroke-width="0.9"/>
<circle cx="425.33" cy="621.03" r="1.9" fill="#000"/>
<circle cx="425.33" cy="613.01" r="1.9" fill="#0000ff"/>
<circle cx="425.33" cy="629.81" r="1.9" fill="#ff0000"/>
<line x1="436.53" y1="608.50" x2="436.53" y2="624.54" stroke="#777" stroke-width="0.9"/>
<circle cx="436.53" cy="616.27" r="1.9" fill="#000"/>
<circle cx="436.53" cy="608.50" r="1.9" fill="#0000ff"/>
<circle cx="436.53" cy="624.54" r="1.9" fill="#ff0000"/>
<line x1="447.74" y1="606.24" x2="447.74" y2="622.03" stroke="#777" stroke-width="0.9"/>
<circle cx="447.74" cy="613.51" r="1.9" fill="#000"/>
<circle cx="447.74" cy="606.24" r="1.9" fill="#0000ff"/>
<circle cx="447.74" cy="622.03" r="1.9" fill="#ff0000"/>
</svg>
<rect x="275.60" y="573.90" width="186.20" height="142.90" fill="none" stroke="#333" stroke-width="1"/>
<line x1="272.80" y1="704.26" x2="275.60" y2="704.26" stroke="#333" stroke-width="1"/>
<text x="270.60" y="707.36" font-size="8.80" text-anchor="end" textLength="9.03" lengthAdjust="spacingAndGlyphs" fill="#111" stroke="#111" stroke-width="0.12">50</text>
<line x1="272.80" y1="679.19" x2="275.60" y2="679.19" stroke="#333" stroke-width="1"/>
<text x="270.60" y="682.29" font-size="8.80" text-anchor="end" textLength="9.03" lengthAdjust="spacingAndGlyphs" fill="#111" stroke="#111" stroke-width="0.12">60</text>
<line x1="272.80" y1="654.12" x2="275.60" y2="654.12" stroke="#333" stroke-width="1"/>
<text x="270.60" y="657.22" font-size="8.80" text-anchor="end" textLength="9.03" lengthAdjust="spacingAndGlyphs" fill="#111" stroke="#111" stroke-width="0.12">70</text>
<line x1="272.80" y1="629.05" x2="275.60" y2="629.05" stroke="#333" stroke-width="1"/>
<text x="270.60" y="632.15" font-size="8.80" text-anchor="end" textLength="9.03" lengthAdjust="spacingAndGlyphs" fill="#111" stroke="#111" stroke-width="0.12">80</text>
<line x1="272.80" y1="603.98" x2="275.60" y2="603.98" stroke="#333" stroke-width="1"/>
<text x="270.60" y="607.08" font-size="8.80" text-anchor="end" textLength="9.03" lengthAdjust="spacingAndGlyphs" fill="#111" stroke="#111" stroke-width="0.12">90</text>
<line x1="272.80" y1="578.91" x2="275.60" y2="578.91" stroke="#333" stroke-width="1"/>
<text x="270.60" y="582.01" font-size="8.80" text-anchor="end" textLength="13.55" lengthAdjust="spacingAndGlyphs" fill="#111" stroke="#111" stroke-width="0.12">100</text>
<line x1="306.47" y1="716.80" x2="306.47" y2="719.60" stroke="#333" stroke-width="1"/>
<text x="306.47" y="727.10" font-size="8.80" text-anchor="middle" textLength="38.40" lengthAdjust="spacingAndGlyphs" fill="#111" stroke="#111" stroke-width="0.12">Sensitivity</text>
<line x1="368.70" y1="716.80" x2="368.70" y2="719.60" stroke="#333" stroke-width="1"/>
<text x="368.70" y="727.10" font-size="8.80" text-anchor="middle" textLength="38.20" lengthAdjust="spacingAndGlyphs" fill="#111" stroke="#111" stroke-width="0.12">Specificity</text>
<line x1="430.93" y1="716.80" x2="430.93" y2="719.60" stroke="#333" stroke-width="1"/>
<text x="430.93" y="727.10" font-size="8.80" text-anchor="middle" textLength="19.80" lengthAdjust="spacingAndGlyphs" fill="#111" stroke="#111" stroke-width="0.12">BACC</text>
<text x="368.70" y="738.10" font-size="8.70" text-anchor="middle" textLength="89.00" lengthAdjust="spacingAndGlyphs" fill="#111" stroke="#111" stroke-width="0.12">Performance Metrics</text>
<text x="252.90" y="645.35" font-size="8.70" text-anchor="middle" textLength="45.70" lengthAdjust="spacingAndGlyphs" fill="#111" stroke="#111" stroke-width="0.12" transform="rotate(-90 252.90 645.35)">Values (%)</text>
<svg x="498.40" y="573.90" width="185.30" height="142.90" viewBox="498.40 573.90 185.30 142.90" overflow="hidden">
<rect x="506.82" y="594.46" width="11.15" height="124.34" fill="rgb(54,190,198)" stroke="#3a3a3a" stroke-width="0.9"/>
<rect x="517.97" y="602.98" width="11.15" height="115.82" fill="rgb(144,202,222)" stroke="#3a3a3a" stroke-width="0.9"/>
<rect x="529.12" y="606.24" width="11.15" height="112.56" fill="rgb(252,214,138)" stroke="#3a3a3a" stroke-width="0.9"/>
<rect x="540.27" y="597.97" width="11.15" height="120.83" fill="rgb(236,128,118)" stroke="#3a3a3a" stroke-width="0.9"/>
<rect x="568.75" y="651.87" width="11.15" height="66.93" fill="rgb(54,190,198)" stroke="#3a3a3a" stroke-width="0.9"/>
<rect x="579.90" y="655.13" width="11.15" height="63.67" fill="rgb(144,202,222)" stroke="#3a3a3a" stroke-width="0.9"/>
<rect x="591.05" y="607.74" width="11.15" height="111.06" fill="rgb(252,214,138)" stroke="#3a3a3a" stroke-width="0.9"/>
<rect x="602.20" y="597.22" width="11.15" height="121.58" fill="rgb(236,128,118)" stroke="#3a3a3a" stroke-width="0.9"/>
<rect x="630.69" y="622.79" width="11.15" height="96.01" fill="rgb(54,190,198)" stroke="#3a3a3a" stroke-width="0.9"/>
<rect x="641.83" y="628.80" width="11.15" height="90.00" fill="rgb(144,202,222)" stroke="#3a3a3a" stroke-width="0.9"/>
<rect x="652.98" y="606.74" width="11.15" height="112.06" fill="rgb(252,214,138)" stroke="#3a3a3a" stroke-width="0.9"/>
<rect x="664.13" y="597.47" width="11.15" height="121.33" fill="rgb(236,128,118)" stroke="#3a3a3a" stroke-width="0.9"/>
<text x="515.30" y="714.20" font-size="9.90" textLength="19.04" lengthAdjust="spacingAndGlyphs" fill="#111" stroke="#111" stroke-width="0.12" transform="rotate(-90 515.30 714.20)">93.8</text>
<text x="526.44" y="714.20" font-size="9.90" textLength="19.04" lengthAdjust="spacingAndGlyphs" fill="#111" stroke="#111" stroke-width="0.12" transform="rotate(-90 526.44 714.20)">90.4</text>
<text x="537.59" y="714.20" font-size="9.90" textLength="19.04" lengthAdjust="spacingAndGlyphs" fill="#111" stroke="#111" stroke-width="0.12" transform="rotate(-90 537.59 714.20)">89.1</text>
<text x="548.74" y="714.20" font-size="9.90" textLength="19.04" lengthAdjust="spacingAndGlyphs" fill="#111" stroke="#111" stroke-width="0.12" transform="rotate(-90 548.74 714.20)">92.4</text>
<text x="577.23" y="714.20" font-size="9.90" textLength="19.04" lengthAdjust="spacingAndGlyphs" fill="#111" stroke="#111" stroke-width="0.12" transform="rotate(-90 577.23 714.20)">70.9</text>
<text x="588.38" y="714.20" font-size="9.90" textLength="19.04" lengthAdjust="spacingAndGlyphs" fill="#111" stroke="#111" stroke-width="0.12" transform="rotate(-90 588.38 714.20)">69.6</text>
<text x="599.52" y="714.20" font-size="9.90" textLength="19.04" lengthAdjust="spacingAndGlyphs" fill="#111" stroke="#111" stroke-width="0.12" transform="rotate(-90 599.52 714.20)">88.5</text>
<text x="610.67" y="714.20" font-size="9.90" textLength="19.04" lengthAdjust="spacingAndGlyphs" fill="#111" stroke="#111" stroke-width="0.12" transform="rotate(-90 610.67 714.20)">92.7</text>
<text x="639.16" y="714.20" font-size="9.90" textLength="19.04" lengthAdjust="spacingAndGlyphs" fill="#111" stroke="#111" stroke-width="0.12" transform="rotate(-90 639.16 714.20)">82.5</text>
<text x="650.31" y="714.20" font-size="9.90" textLength="19.04" lengthAdjust="spacingAndGlyphs" fill="#111" stroke="#111" stroke-width="0.12" transform="rotate(-90 650.31 714.20)">80.1</text>
<text x="661.46" y="714.20" font-size="9.90" textLength="19.04" lengthAdjust="spacingAndGlyphs" fill="#111" stroke="#111" stroke-width="0.12" transform="rotate(-90 661.46 714.20)">88.9</text>
<text x="672.60" y="714.20" font-size="9.90" textLength="19.04" lengthAdjust="spacingAndGlyphs" fill="#111" stroke="#111" stroke-width="0.12" transform="rotate(-90 672.60 714.20)">92.6</text>
<line x1="512.40" y1="585.93" x2="512.40" y2="604.49" stroke="#777" stroke-width="0.9"/>
<circle cx="512.40" cy="594.46" r="1.9" fill="#000"/>
<circle cx="512.40" cy="585.93" r="1.9" fill="#0000ff"/>
<circle cx="512.40" cy="604.49" r="1.9" fill="#ff0000"/>
<line x1="523.54" y1="591.45" x2="523.54" y2="615.02" stroke="#777" stroke-width="0.9"/>
<circle cx="523.54" cy="602.98" r="1.9" fill="#000"/>
<circle cx="523.54" cy="591.45" r="1.9" fill="#0000ff"/>
<circle cx="523.54" cy="615.02" r="1.9" fill="#ff0000"/>
<line x1="534.69" y1="594.46" x2="534.69" y2="619.28" stroke="#777" stroke-width="0.9"/>
<circle cx="534.69" cy="606.24" r="1.9" fill="#000"/>
<circle cx="534.69" cy="594.46" r="1.9" fill="#0000ff"/>
<circle cx="534.69" cy="619.28" r="1.9" fill="#ff0000"/>
<line x1="545.84" y1="587.94" x2="545.84" y2="609.25" stroke="#777" stroke-width="0.9"/>
<circle cx="545.84" cy="597.97" r="1.9" fill="#000"/>
<circle cx="545.84" cy="587.94" r="1.9" fill="#0000ff"/>
<circle cx="545.84" cy="609.25" r="1.9" fill="#ff0000"/>
<line x1="574.33" y1="639.33" x2="574.33" y2="663.90" stroke="#777" stroke-width="0.9"/>
<circle cx="574.33" cy="651.87" r="1.9" fill="#000"/>
<circle cx="574.33" cy="639.33" r="1.9" fill="#0000ff"/>
<circle cx="574.33" cy="663.90" r="1.9" fill="#ff0000"/>
<line x1="585.48" y1="642.84" x2="585.48" y2="667.91" stroke="#777" stroke-width="0.9"/>
<circle cx="585.48" cy="655.13" r="1.9" fill="#000"/>
<circle cx="585.48" cy="642.84" r="1.9" fill="#0000ff"/>
<circle cx="585.48" cy="667.91" r="1.9" fill="#ff0000"/>
<line x1="596.62" y1="599.47" x2="596.62" y2="617.02" stroke="#777" stroke-width="0.9"/>
<circle cx="596.62" cy="607.74" r="1.9" fill="#000"/>
<circle cx="596.62" cy="599.47" r="1.9" fill="#0000ff"/>
<circle cx="596.62" cy="617.02" r="1.9" fill="#ff0000"/>
<line x1="607.77" y1="590.95" x2="607.77" y2="604.49" stroke="#777" stroke-width="0.9"/>
<circle cx="607.77" cy="597.22" r="1.9" fill="#000"/>
<circle cx="607.77" cy="590.95" r="1.9" fill="#0000ff"/>
<circle cx="607.77" cy="604.49" r="1.9" fill="#ff0000"/>
<line x1="636.26" y1="615.27" x2="636.26" y2="630.56" stroke="#777" stroke-width="0.9"/>
<circle cx="636.26" cy="622.79" r="1.9" fill="#000"/>
<circle cx="636.26" cy="615.27" r="1.9" fill="#0000ff"/>
<circle cx="636.26" cy="630.56" r="1.9" fill="#ff0000"/>
<line x1="647.41" y1="620.53" x2="647.41" y2="637.83" stroke="#777" stroke-width="0.9"/>
<circle cx="647.41" cy="628.80" r="1.9" fill="#000"/>
<circle cx="647.41" cy="620.53" r="1.9" fill="#0000ff"/>
<circle cx="647.41" cy="637.83" r="1.9" fill="#ff0000"/>
<line x1="658.56" y1="599.47" x2="658.56" y2="615.02" stroke="#777" stroke-width="0.9"/>
<circle cx="658.56" cy="606.74" r="1.9" fill="#000"/>
<circle cx="658.56" cy="599.47" r="1.9" fill="#0000ff"/>
<circle cx="658.56" cy="615.02" r="1.9" fill="#ff0000"/>
<line x1="669.70" y1="591.45" x2="669.70" y2="604.23" stroke="#777" stroke-width="0.9"/>
<circle cx="669.70" cy="597.47" r="1.9" fill="#000"/>
<circle cx="669.70" cy="591.45" r="1.9" fill="#0000ff"/>
<circle cx="669.70" cy="604.23" r="1.9" fill="#ff0000"/>
</svg>
<rect x="498.40" y="573.90" width="185.30" height="142.90" fill="none" stroke="#333" stroke-width="1"/>
<line x1="495.60" y1="704.26" x2="498.40" y2="704.26" stroke="#333" stroke-width="1"/>
<text x="493.40" y="707.36" font-size="8.80" text-anchor="end" textLength="9.03" lengthAdjust="spacingAndGlyphs" fill="#111" stroke="#111" stroke-width="0.12">50</text>
<line x1="495.60" y1="679.19" x2="498.40" y2="679.19" stroke="#333" stroke-width="1"/>
<text x="493.40" y="682.29" font-size="8.80" text-anchor="end" textLength="9.03" lengthAdjust="spacingAndGlyphs" fill="#111" stroke="#111" stroke-width="0.12">60</text>
<line x1="495.60" y1="654.12" x2="498.40" y2="654.12" stroke="#333" stroke-width="1"/>
<text x="493.40" y="657.22" font-size="8.80" text-anchor="end" textLength="9.03" lengthAdjust="spacingAndGlyphs" fill="#111" stroke="#111" stroke-width="0.12">70</text>
<line x1="495.60" y1="629.05" x2="498.40" y2="629.05" stroke="#333" stroke-width="1"/>
<text x="493.40" y="632.15" font-size="8.80" text-anchor="end" textLength="9.03" lengthAdjust="spacingAndGlyphs" fill="#111" stroke="#111" stroke-width="0.12">80</text>
<line x1="495.60" y1="603.98" x2="498.40" y2="603.98" stroke="#333" stroke-width="1"/>
<text x="493.40" y="607.08" font-size="8.80" text-anchor="end" textLength="9.03" lengthAdjust="spacingAndGlyphs" fill="#111" stroke="#111" stroke-width="0.12">90</text>
<line x1="495.60" y1="578.91" x2="498.40" y2="578.91" stroke="#333" stroke-width="1"/>
<text x="493.40" y="582.01" font-size="8.80" text-anchor="end" textLength="13.55" lengthAdjust="spacingAndGlyphs" fill="#111" stroke="#111" stroke-width="0.12">100</text>
<line x1="529.12" y1="716.80" x2="529.12" y2="719.60" stroke="#333" stroke-width="1"/>
<text x="529.12" y="727.10" font-size="8.80" text-anchor="middle" textLength="38.40" lengthAdjust="spacingAndGlyphs" fill="#111" stroke="#111" stroke-width="0.12">Sensitivity</text>
<line x1="591.05" y1="716.80" x2="591.05" y2="719.60" stroke="#333" stroke-width="1"/>
<text x="591.05" y="727.10" font-size="8.80" text-anchor="middle" textLength="38.20" lengthAdjust="spacingAndGlyphs" fill="#111" stroke="#111" stroke-width="0.12">Specificity</text>
<line x1="652.98" y1="716.80" x2="652.98" y2="719.60" stroke="#333" stroke-width="1"/>
<text x="652.98" y="727.10" font-size="8.80" text-anchor="middle" textLength="19.80" lengthAdjust="spacingAndGlyphs" fill="#111" stroke="#111" stroke-width="0.12">BACC</text>
<text x="591.05" y="738.10" font-size="8.70" text-anchor="middle" textLength="89.00" lengthAdjust="spacingAndGlyphs" fill="#111" stroke="#111" stroke-width="0.12">Performance Metrics</text>
<text x="475.70" y="645.35" font-size="8.70" text-anchor="middle" textLength="45.70" lengthAdjust="spacingAndGlyphs" fill="#111" stroke="#111" stroke-width="0.12" transform="rotate(-90 475.70 645.35)">Values (%)</text>
</svg></body></html>
